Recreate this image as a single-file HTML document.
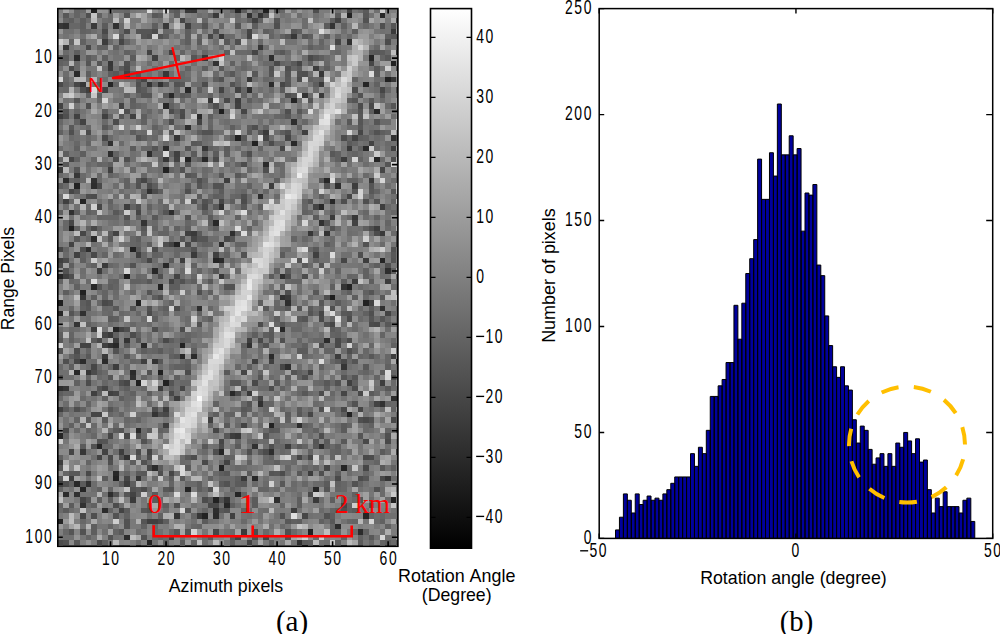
<!DOCTYPE html><html><head><meta charset="utf-8"><style>html,body{margin:0;padding:0;background:#fff;overflow:hidden}svg{display:block}text{font-kerning:none}</style></head><body><svg width="1000" height="634" viewBox="0 0 1000 634"><rect x="0" y="0" width="1000" height="634" fill="#fff"/><g shape-rendering="crispEdges"><path fill="rgb(31,31,31)" d="M219 109h5v5h-5zM69 226h5v5h-5zM124 274h6v5h-6zM330 295h5v5h-5zM58 300h5v6h-5zM158 370h5v5h-5z"/><path fill="rgb(34,34,34)" d="M91 9h6v4h-6zM263 9h6v4h-6zM347 13h5v5h-5zM391 61h5v5h-5zM385 77h6v5h-6zM235 135h6v6h-6zM252 141h6v5h-6zM163 167h6v6h-6zM74 183h6v6h-6zM174 242h6v5h-6zM130 247h6v5h-6zM158 284h5v6h-5zM347 284h5v6h-5zM80 290h6v5h-6zM136 300h5v6h-5zM363 300h6v6h-6zM180 343h5v5h-5zM136 380h5v6h-5zM163 380h6v6h-6zM347 412h5v5h-5zM269 423h5v5h-5zM219 465h5v6h-5zM113 476h6v5h-6zM213 497h6v6h-6zM391 497h5v6h-5zM202 513h6v6h-6zM308 529h5v6h-5zM302 545h6v1h-6zM324 545h6v1h-6z"/><path fill="rgb(37,37,37)" d="M369 55h5v6h-5zM108 82h5v5h-5zM363 82h6v5h-6zM291 98h6v5h-6zM185 157h6v5h-6zM374 157h6v5h-6zM80 199h6v5h-6zM213 258h6v5h-6zM380 258h5v5h-5zM58 274h5v5h-5zM113 327h6v5h-6zM58 433h5v6h-5zM97 444h5v5h-5zM219 449h5v6h-5zM341 465h6v6h-6zM80 487h6v5h-6zM185 487h6v5h-6zM313 487h6v5h-6zM235 492h6v5h-6zM224 503h6v5h-6zM363 513h6v6h-6zM58 519h5v5h-5zM147 540h5v5h-5z"/><path fill="rgb(40,40,40)" d="M235 9h6v4h-6zM380 13h5v5h-5zM74 71h6v6h-6zM185 87h6v6h-6zM169 93h5v5h-5zM163 103h6v6h-6zM374 109h6v5h-6zM291 141h6v5h-6zM202 157h6v5h-6zM324 178h6v5h-6zM330 199h5v5h-5zM319 204h5v6h-5zM213 220h6v6h-6zM163 263h6v5h-6zM152 268h6v6h-6zM91 284h6v6h-6zM58 311h5v5h-5zM280 327h5v5h-5zM113 343h6v5h-6zM180 354h5v5h-5zM74 370h6v5h-6zM230 391h5v5h-5zM113 471h6v5h-6zM252 476h6v5h-6zM74 481h6v6h-6z"/><path fill="rgb(43,43,43)" d="M74 55h6v6h-6zM269 82h5v5h-5zM197 114h5v5h-5zM163 146h6v5h-6zM363 146h6v5h-6zM263 162h6v5h-6zM91 236h6v6h-6zM219 258h5v5h-5zM324 338h6v5h-6zM141 343h6v5h-6zM191 354h6v5h-6zM269 354h5v5h-5zM80 359h6v5h-6zM102 359h6v5h-6zM396 359h2v5h-2zM130 370h6v5h-6zM396 396h2v5h-2zM136 428h5v5h-5zM152 465h6v6h-6zM63 492h6v5h-6zM102 508h6v5h-6zM213 513h6v6h-6zM335 524h6v5h-6zM358 529h5v6h-5zM124 535h6v5h-6z"/><path fill="rgb(46,46,46)" d="M269 55h5v6h-5zM247 87h5v6h-5zM291 119h6v6h-6zM185 125h6v5h-6zM108 151h5v6h-5zM147 151h5v6h-5zM63 178h6v5h-6zM91 183h6v6h-6zM335 183h6v6h-6zM258 194h5v5h-5zM169 210h5v5h-5zM230 231h5v5h-5zM219 242h5v5h-5zM86 247h5v5h-5zM385 268h6v6h-6zM280 274h5v5h-5zM285 300h6v6h-6zM197 306h5v5h-5zM285 364h6v6h-6zM58 386h5v5h-5zM391 396h5v5h-5zM297 423h5v5h-5zM319 444h5v5h-5zM269 449h5v6h-5zM108 492h5v5h-5zM274 497h6v6h-6zM213 508h6v5h-6z"/><path fill="rgb(49,49,49)" d="M247 13h5v5h-5zM63 23h6v6h-6zM113 23h6v6h-6zM347 39h5v6h-5zM396 50h2v5h-2zM213 61h6v5h-6zM158 82h5v5h-5zM391 135h5v6h-5zM108 141h5v5h-5zM91 178h6v5h-6zM147 189h5v5h-5zM219 204h5v6h-5zM69 210h5v5h-5zM319 220h5v6h-5zM280 295h5v5h-5zM380 306h5v5h-5zM80 311h6v5h-6zM108 343h5v5h-5zM247 343h5v5h-5zM130 375h6v5h-6zM258 401h5v6h-5zM380 401h5v6h-5zM252 444h6v5h-6zM124 455h6v5h-6zM86 481h5v6h-5zM74 492h6v5h-6zM80 503h6v5h-6zM297 540h5v5h-5zM341 545h6v1h-6z"/><path fill="rgb(52,52,52)" d="M258 13h5v5h-5zM330 23h5v6h-5zM147 82h5v5h-5zM302 93h6v5h-6zM141 220h6v6h-6zM324 231h6v5h-6zM341 284h6v6h-6zM74 322h6v5h-6zM124 338h6v5h-6zM152 359h6v5h-6zM341 364h6v6h-6zM152 412h6v5h-6zM136 476h5v5h-5zM385 476h6v5h-6zM224 497h6v6h-6zM174 513h6v6h-6z"/><path fill="rgb(55,55,55)" d="M191 9h6v4h-6zM58 23h5v6h-5zM219 34h5v5h-5zM291 34h6v5h-6zM258 45h5v5h-5zM202 55h6v6h-6zM108 61h5v5h-5zM163 71h6v6h-6zM319 71h5v6h-5zM247 77h5v5h-5zM391 77h5v5h-5zM80 82h6v5h-6zM208 98h5v5h-5zM174 135h6v6h-6zM202 146h6v5h-6zM163 157h6v5h-6zM74 173h6v5h-6zM352 215h6v5h-6zM308 231h5v5h-5zM219 274h5v5h-5zM80 295h6v5h-6zM86 370h5v5h-5zM63 386h6v5h-6zM235 433h6v6h-6zM80 449h6v6h-6zM197 513h5v6h-5z"/><path fill="rgb(58,58,58)" d="M185 9h6v4h-6zM213 13h6v5h-6zM91 23h6v6h-6zM163 23h6v6h-6zM391 29h5v5h-5zM63 45h6v5h-6zM108 66h5v5h-5zM319 82h5v5h-5zM319 93h5v5h-5zM263 130h6v5h-6zM347 146h5v5h-5zM58 167h5v6h-5zM369 178h5v5h-5zM330 215h5v5h-5zM191 231h6v5h-6zM380 231h5v5h-5zM191 252h6v6h-6zM102 263h6v5h-6zM285 295h6v5h-6zM108 332h5v6h-5zM102 354h6v5h-6zM247 391h5v5h-5zM241 476h6v5h-6zM130 497h6v6h-6zM313 497h6v6h-6zM241 529h6v6h-6zM313 545h6v1h-6z"/><path fill="rgb(61,61,61)" d="M102 39h6v6h-6zM313 66h6v5h-6zM235 98h6v5h-6zM58 114h5v5h-5zM341 157h6v5h-6zM224 178h6v5h-6zM269 183h5v6h-5zM352 183h6v6h-6zM124 204h6v6h-6zM380 204h5v6h-5zM374 226h6v5h-6zM180 258h5v5h-5zM363 258h6v5h-6zM97 268h5v6h-5zM352 279h6v5h-6zM385 279h6v5h-6zM91 327h6v5h-6zM113 338h6v5h-6zM335 354h6v5h-6zM391 354h5v5h-5zM113 364h6v6h-6zM380 380h5v6h-5zM158 386h5v5h-5zM174 396h6v5h-6zM163 407h6v5h-6zM163 423h6v5h-6zM230 433h5v6h-5zM285 444h6v5h-6zM119 449h5v6h-5zM58 460h5v5h-5zM308 471h5v5h-5zM69 476h5v5h-5zM124 481h6v6h-6zM291 508h6v5h-6zM136 545h5v1h-5z"/><path fill="rgb(64,64,64)" d="M252 18h6v5h-6zM396 18h2v5h-2zM185 23h6v6h-6zM152 55h6v6h-6zM124 71h6v6h-6zM86 87h5v6h-5zM235 103h6v6h-6zM74 114h6v5h-6zM102 114h6v5h-6zM130 114h6v5h-6zM302 130h6v5h-6zM391 146h5v5h-5zM174 151h6v6h-6zM108 167h5v6h-5zM63 199h6v5h-6zM185 231h6v5h-6zM396 242h2v5h-2zM74 252h6v6h-6zM136 252h5v6h-5zM213 252h6v6h-6zM313 252h6v6h-6zM58 258h5v5h-5zM63 274h6v5h-6zM247 338h5v5h-5zM102 343h6v5h-6zM141 359h6v5h-6zM252 359h6v5h-6zM269 359h5v5h-5zM347 380h5v6h-5zM91 391h6v5h-6zM108 391h5v5h-5zM58 407h5v5h-5zM208 417h5v6h-5zM396 449h2v6h-2zM58 481h5v6h-5zM230 513h5v6h-5zM147 519h11v5h-11zM169 535h5v5h-5zM235 535h6v5h-6z"/><path fill="rgb(67,67,67)" d="M347 9h5v4h-5zM335 18h6v5h-6zM247 34h5v5h-5zM147 50h5v5h-5zM169 50h5v5h-5zM102 87h6v6h-6zM219 87h5v6h-5zM235 87h6v6h-6zM58 103h5v6h-5zM119 103h5v6h-5zM80 119h6v6h-6zM197 119h5v6h-5zM352 135h6v6h-6zM369 141h5v5h-5zM174 157h6v5h-6zM352 220h6v6h-6zM113 231h6v5h-6zM69 242h5v5h-5zM169 242h5v5h-5zM174 274h6v5h-6zM169 279h5v5h-5zM369 300h5v6h-5zM385 311h6v5h-6zM119 327h5v5h-5zM80 343h11v5h-11zM308 370h5v5h-5zM374 401h6v6h-6zM241 423h6v5h-6zM396 428h2v5h-2zM102 449h6v6h-6zM147 449h5v6h-5zM97 455h5v5h-5zM224 460h6v5h-6zM130 492h6v5h-6zM80 497h6v6h-6zM119 508h5v5h-5zM263 535h6v5h-6zM247 540h5v5h-5z"/><path fill="rgb(70,70,70)" d="M180 18h5v5h-5zM247 29h5v5h-5zM208 34h5v5h-5zM119 39h5v6h-5zM335 39h6v6h-6zM252 50h6v5h-6zM297 61h5v5h-5zM369 61h5v5h-5zM141 77h6v5h-6zM74 82h6v5h-6zM280 82h5v5h-5zM380 87h5v6h-5zM241 109h6v5h-6zM358 130h5v5h-5zM263 135h6v6h-6zM285 135h6v6h-6zM280 146h5v5h-5zM69 157h5v5h-5zM380 167h5v6h-5zM141 178h6v5h-6zM69 189h5v5h-5zM347 194h5v5h-5zM219 199h5v5h-5zM97 204h5v6h-5zM313 204h6v6h-6zM136 210h5v5h-5zM69 220h5v6h-5zM80 231h6v5h-6zM191 236h6v6h-6zM58 247h5v5h-5zM147 258h5v5h-5zM341 258h6v5h-6zM319 311h5v5h-5zM330 322h5v5h-5zM102 332h6v6h-6zM74 359h6v5h-6zM91 364h6v6h-6zM280 364h5v6h-5zM241 370h6v5h-6zM124 380h6v6h-6zM102 386h6v5h-6zM180 386h5v5h-5zM113 391h6v5h-6zM341 391h6v5h-6zM258 396h5v5h-5zM358 407h5v5h-5zM91 412h11v5h-11zM308 412h5v5h-5zM213 428h6v5h-6zM108 433h5v6h-5zM219 439h5v5h-5zM69 449h5v6h-5zM297 455h5v5h-5zM308 455h5v5h-5zM324 465h6v6h-6zM363 465h6v6h-6zM169 471h5v5h-5zM124 476h6v5h-6zM341 503h6v5h-6zM80 513h6v6h-6zM302 513h6v6h-6zM213 529h6v6h-6z"/><path fill="rgb(73,73,73)" d="M102 29h6v5h-6zM86 45h5v5h-5zM396 45h2v5h-2zM308 55h5v6h-5zM274 61h6v5h-6zM69 66h5v5h-5zM58 82h5v5h-5zM224 98h6v5h-6zM369 103h5v6h-5zM180 114h5v5h-5zM102 135h6v6h-6zM213 157h6v5h-6zM97 183h5v6h-5zM91 226h6v5h-6zM224 236h6v6h-6zM185 242h6v5h-6zM91 252h6v6h-6zM102 300h6v6h-6zM319 316h5v6h-5zM374 322h6v5h-6zM97 338h5v5h-5zM163 338h6v5h-6zM258 338h5v5h-5zM335 338h6v5h-6zM335 343h6v5h-6zM341 359h6v5h-6zM252 380h6v6h-6zM169 391h5v5h-5zM235 391h6v5h-6zM358 391h5v5h-5zM341 407h6v5h-6zM163 412h6v5h-6zM363 417h6v6h-6zM391 417h5v6h-5zM63 428h6v5h-6zM124 433h6v6h-6zM363 439h6v5h-6zM385 439h6v5h-6zM108 455h5v5h-5zM363 455h6v5h-6zM202 460h6v5h-6zM147 465h5v6h-5zM86 471h5v5h-5zM335 476h6v5h-6zM380 476h5v5h-5zM308 492h5v5h-5zM208 503h11v5h-11zM158 519h5v5h-5z"/><path fill="rgb(76,76,76)" d="M124 29h6v5h-6zM152 29h6v5h-6zM385 39h6v6h-6zM124 66h6v5h-6zM297 77h5v5h-5zM202 82h6v5h-6zM352 87h6v6h-6zM358 103h5v6h-5zM169 109h5v5h-5zM180 109h5v5h-5zM113 119h6v6h-6zM169 119h5v6h-5zM86 130h5v5h-5zM341 135h6v6h-6zM269 141h5v5h-5zM241 162h6v5h-6zM147 183h5v6h-5zM152 189h6v5h-6zM91 194h6v5h-6zM241 199h6v5h-6zM202 204h6v6h-6zM374 231h6v5h-6zM396 236h2v6h-2zM152 247h6v5h-6zM63 258h6v5h-6zM58 263h5v5h-5zM285 274h6v5h-6zM302 274h6v5h-6zM174 306h6v5h-6zM147 311h5v5h-5zM347 316h5v6h-5zM258 322h5v5h-5zM369 322h5v5h-5zM180 327h5v5h-5zM130 332h6v6h-6zM347 338h5v5h-5zM319 343h5v5h-5zM74 348h6v6h-6zM91 370h6v5h-6zM185 370h6v5h-6zM391 375h5v5h-5zM86 380h5v6h-5zM269 386h5v5h-5zM352 386h6v5h-6zM319 391h5v5h-5zM152 407h6v5h-6zM219 444h5v5h-5zM136 449h5v6h-5zM263 449h6v6h-6zM147 455h5v5h-5zM191 455h6v5h-6zM369 455h5v5h-5zM280 471h5v5h-5zM358 476h5v5h-5zM141 487h6v5h-6zM202 497h6v6h-6zM113 503h6v5h-6zM252 529h6v6h-6zM58 540h5v5h-5zM97 540h5v5h-5zM152 545h6v1h-6z"/><path fill="rgb(79,79,79)" d="M313 9h6v4h-6zM86 13h5v5h-5zM274 23h6v6h-6zM380 23h5v6h-5zM213 29h6v5h-6zM147 34h5v5h-5zM235 39h6v6h-6zM124 61h6v5h-6zM285 66h6v5h-6zM302 71h6v6h-6zM136 82h5v5h-5zM80 87h6v6h-6zM396 87h2v6h-2zM285 93h6v5h-6zM86 103h5v6h-5zM213 103h6v6h-6zM124 109h6v5h-6zM285 109h6v5h-6zM63 114h6v5h-6zM252 125h6v5h-6zM69 130h5v5h-5zM396 135h2v6h-2zM247 151h5v6h-5zM113 157h6v5h-6zM124 157h6v5h-6zM391 157h5v5h-5zM263 167h6v6h-6zM197 178h5v5h-5zM185 189h6v5h-6zM86 194h5v5h-5zM241 194h6v5h-6zM341 199h6v5h-6zM363 199h6v5h-6zM369 226h5v5h-5zM163 242h6v5h-6zM80 247h6v5h-6zM358 252h5v6h-5zM385 263h6v5h-6zM69 274h5v5h-5zM158 274h5v5h-5zM197 290h5v5h-5zM285 290h6v5h-6zM158 295h5v5h-5zM324 295h6v5h-6zM108 300h5v6h-5zM330 306h5v5h-5zM369 311h5v5h-5zM124 327h6v5h-6zM152 327h6v5h-6zM280 338h5v5h-5zM347 348h5v6h-5zM63 359h6v5h-6zM302 375h6v5h-6zM119 380h5v6h-5zM74 407h6v5h-6zM319 407h5v5h-5zM158 412h5v5h-5zM358 417h5v6h-5zM319 433h5v6h-5zM385 433h6v6h-6zM269 444h5v5h-5zM213 449h6v6h-6zM247 449h5v6h-5zM108 460h5v5h-5zM158 471h5v5h-5zM319 471h5v5h-5zM63 481h6v6h-6zM174 503h6v5h-6zM341 508h6v5h-6zM91 513h6v6h-6zM285 529h6v6h-6zM252 535h6v5h-6zM285 535h6v5h-6zM119 545h5v1h-5z"/><path fill="rgb(82,82,82)" d="M363 18h6v5h-6zM158 34h5v5h-5zM396 34h2v5h-2zM269 66h5v5h-5zM396 66h2v5h-2zM297 71h5v6h-5zM219 77h5v5h-5zM174 82h6v5h-6zM230 82h5v5h-5zM358 93h5v5h-5zM202 130h11v5h-11zM285 130h6v5h-6zM374 130h6v5h-6zM136 135h5v6h-5zM180 167h5v6h-5zM136 183h5v6h-5zM213 183h11v6h-11zM324 183h6v6h-6zM191 199h6v5h-6zM202 199h6v5h-6zM374 199h6v5h-6zM136 204h5v6h-5zM124 215h6v5h-6zM185 215h6v5h-6zM330 226h5v5h-5zM363 242h6v5h-6zM191 247h6v5h-6zM391 247h5v5h-5zM241 252h6v6h-6zM130 263h6v5h-6zM63 268h6v6h-6zM180 279h5v5h-5zM224 284h11v6h-11zM147 306h5v5h-5zM197 322h5v5h-5zM324 322h6v5h-6zM263 343h6v5h-6zM58 348h5v6h-5zM113 348h6v6h-6zM147 370h5v5h-5zM335 380h6v6h-6zM241 386h6v5h-6zM352 401h6v6h-6zM369 417h5v6h-5zM136 433h5v6h-5zM97 439h5v5h-5zM141 439h6v5h-6zM91 444h6v5h-6zM141 460h6v5h-6zM224 481h6v6h-6zM352 481h6v6h-6zM130 487h6v5h-6zM169 487h5v5h-5zM208 487h5v5h-5zM374 487h6v5h-6zM113 492h6v5h-6zM219 497h5v6h-5zM147 508h5v5h-5zM185 508h6v5h-6zM224 508h6v5h-6zM113 513h6v6h-6zM280 513h5v6h-5zM324 513h6v6h-6zM124 519h6v5h-6zM124 524h6v5h-6zM80 529h6v6h-6zM108 535h5v5h-5zM141 535h6v5h-6zM63 540h6v5h-6zM174 545h6v1h-6zM185 545h6v1h-6zM358 545h5v1h-5z"/><path fill="rgb(85,85,85)" d="M124 13h6v5h-6zM263 13h6v5h-6zM274 18h6v5h-6zM202 23h6v6h-6zM235 23h6v6h-6zM391 23h5v6h-5zM136 29h16v5h-16zM291 29h6v5h-6zM141 34h6v5h-6zM285 34h6v5h-6zM302 34h6v5h-6zM191 55h6v6h-6zM313 55h6v6h-6zM86 61h5v5h-5zM97 61h5v5h-5zM136 71h5v6h-5zM269 71h5v6h-5zM285 71h6v6h-6zM163 82h6v5h-6zM285 82h6v5h-6zM136 87h5v6h-5zM141 93h11v5h-11zM74 98h6v5h-6zM308 98h5v5h-5zM352 98h6v5h-6zM391 103h5v6h-5zM63 109h6v5h-6zM358 109h5v5h-5zM119 114h5v5h-5zM358 119h5v6h-5zM374 119h6v6h-6zM152 146h6v5h-6zM185 146h6v5h-6zM185 162h6v5h-6zM385 162h6v5h-6zM74 167h6v6h-6zM185 173h6v5h-6zM136 178h5v5h-5zM197 183h5v6h-5zM369 183h5v6h-5zM74 189h6v5h-6zM352 189h6v5h-6zM308 199h5v5h-5zM163 210h6v5h-6zM324 220h6v6h-6zM396 231h2v5h-2zM180 236h5v6h-5zM197 236h11v6h-11zM230 236h5v6h-5zM297 258h5v5h-5zM391 258h5v5h-5zM319 263h5v5h-5zM213 268h6v6h-6zM97 284h5v6h-5zM147 290h5v5h-5zM369 290h5v5h-5zM86 300h5v6h-5zM130 306h6v5h-6zM297 306h5v5h-5zM69 311h5v5h-5zM308 311h5v5h-5zM347 311h5v5h-5zM302 316h6v6h-6zM369 316h5v6h-5zM380 316h5v6h-5zM280 322h5v5h-5zM136 338h5v5h-5zM74 354h6v5h-6zM352 359h6v5h-6zM291 370h6v5h-6zM58 375h5v5h-5zM108 375h5v5h-5zM258 375h5v5h-5zM341 375h6v5h-6zM352 375h6v5h-6zM169 380h5v6h-5zM97 386h5v5h-5zM247 401h5v6h-5zM108 407h5v5h-5zM119 428h5v5h-5zM263 433h6v6h-6zM358 433h5v6h-5zM102 439h6v5h-6zM313 439h6v5h-6zM119 455h5v5h-5zM58 465h5v6h-5zM269 471h5v5h-5zM363 476h6v5h-6zM324 487h6v5h-6zM124 492h6v5h-6zM86 497h5v6h-5zM358 497h5v6h-5zM369 503h5v5h-5zM141 519h6v5h-6zM69 529h5v6h-5zM185 529h6v6h-6zM396 540h2v5h-2zM124 545h6v1h-6z"/><path fill="rgb(88,88,88)" d="M63 13h6v5h-6zM152 13h6v5h-6zM363 13h6v5h-6zM102 34h6v5h-6zM391 34h5v5h-5zM224 39h6v6h-6zM280 50h5v5h-5zM374 50h6v5h-6zM385 55h6v6h-6zM219 66h5v5h-5zM374 66h6v5h-6zM113 71h6v6h-6zM230 71h5v6h-5zM252 71h6v6h-6zM136 77h5v5h-5zM285 77h6v5h-6zM180 82h5v5h-5zM163 93h6v5h-6zM180 93h5v5h-5zM291 93h6v5h-6zM380 93h5v5h-5zM369 98h5v5h-5zM297 109h5v5h-5zM285 114h6v5h-6zM358 114h5v5h-5zM347 119h5v6h-5zM69 125h5v5h-5zM102 125h6v5h-6zM358 125h5v5h-5zM169 130h5v5h-5zM247 130h5v5h-5zM258 130h5v5h-5zM241 135h6v6h-6zM191 141h6v5h-6zM330 151h5v6h-5zM63 162h6v5h-6zM219 173h5v5h-5zM235 173h6v5h-6zM319 178h5v5h-5zM369 189h5v5h-5zM391 189h5v5h-5zM241 204h6v6h-6zM113 210h6v5h-6zM152 215h6v5h-6zM141 226h6v5h-6zM74 236h6v6h-6zM108 236h5v6h-5zM313 247h6v5h-6zM391 252h5v6h-5zM147 279h5v5h-5zM208 279h5v5h-5zM313 290h6v5h-6zM380 295h5v5h-5zM319 300h5v6h-5zM86 306h5v5h-5zM113 306h6v5h-6zM263 306h6v5h-6zM285 306h6v5h-6zM341 311h6v5h-6zM385 322h6v5h-6zM269 332h5v6h-5zM58 338h5v5h-5zM269 338h5v5h-5zM124 343h6v5h-6zM86 354h5v5h-5zM124 354h6v5h-6zM369 354h5v5h-5zM158 359h5v5h-5zM363 364h6v6h-6zM224 370h6v5h-6zM230 380h11v6h-11zM274 380h6v6h-6zM324 380h6v6h-6zM385 386h6v5h-6zM302 391h6v5h-6zM241 407h6v5h-6zM297 412h5v5h-5zM224 423h6v5h-6zM269 428h5v5h-5zM224 433h6v6h-6zM341 439h6v5h-6zM202 444h6v5h-6zM313 444h6v5h-6zM185 455h6v5h-6zM380 465h5v6h-5zM69 471h11v5h-11zM141 471h6v5h-6zM224 471h6v5h-6zM274 471h6v5h-6zM297 471h5v5h-5zM58 476h5v5h-5zM180 476h5v5h-5zM241 481h6v6h-6zM280 481h5v6h-5zM136 487h5v5h-5zM163 487h6v5h-6zM141 508h6v5h-6zM219 508h5v5h-5zM285 519h6v5h-6zM330 519h5v5h-5zM119 529h5v6h-5zM174 529h6v6h-6zM208 535h5v5h-5zM230 535h5v5h-5zM369 535h5v5h-5zM74 540h6v5h-6z"/><path fill="rgb(91,91,91)" d="M174 9h6v4h-6zM274 9h6v4h-6zM363 9h6v4h-6zM335 13h6v5h-6zM102 23h6v6h-6zM324 23h6v6h-6zM119 34h5v5h-5zM197 39h5v6h-5zM369 50h5v5h-5zM380 50h5v5h-5zM63 55h6v6h-6zM86 55h5v6h-5zM130 55h6v6h-6zM291 61h6v5h-6zM119 66h5v5h-5zM297 66h5v5h-5zM374 71h6v6h-6zM141 87h6v6h-6zM280 87h5v6h-5zM102 109h6v5h-6zM197 141h5v5h-5zM347 141h5v5h-5zM130 146h6v5h-6zM224 146h6v5h-6zM191 151h6v6h-6zM213 151h6v6h-6zM191 173h6v5h-6zM219 189h5v5h-5zM141 194h6v5h-6zM197 194h5v5h-5zM213 204h6v6h-6zM208 215h5v5h-5zM313 215h6v5h-6zM197 231h5v5h-5zM136 247h5v5h-5zM280 252h5v6h-5zM169 258h5v5h-5zM302 263h6v5h-6zM285 268h6v6h-6zM269 274h5v5h-5zM335 300h6v6h-6zM308 306h5v5h-5zM369 306h5v5h-5zM108 316h5v6h-5zM297 316h5v6h-5zM269 327h5v5h-5zM330 327h5v5h-5zM91 338h6v5h-6zM180 338h5v5h-5zM158 348h5v6h-5zM297 348h11v6h-11zM174 354h6v5h-6zM335 359h6v5h-6zM185 364h6v6h-6zM158 375h5v5h-5zM369 391h5v5h-5zM63 407h6v5h-6zM297 407h5v5h-5zM86 417h5v6h-5zM102 417h6v6h-6zM396 417h2v6h-2zM341 423h6v5h-6zM113 428h6v5h-6zM274 428h6v5h-6zM341 428h6v5h-6zM324 439h6v5h-6zM80 444h6v5h-6zM235 444h6v5h-6zM297 444h5v5h-5zM258 449h5v6h-5zM380 449h5v6h-5zM136 455h5v5h-5zM158 465h5v6h-5zM185 465h6v6h-6zM136 471h5v5h-5zM247 471h5v5h-5zM102 476h6v5h-6zM80 481h6v6h-6zM219 481h5v6h-5zM235 481h6v6h-6zM324 481h6v6h-6zM152 492h6v5h-6zM108 497h5v6h-5zM152 497h6v6h-6zM208 497h5v6h-5zM252 497h6v6h-6zM69 503h5v5h-5zM252 503h6v5h-6zM63 508h6v5h-6zM124 508h6v5h-6zM352 508h6v5h-6zM202 519h6v5h-6zM180 540h5v5h-5zM302 540h6v5h-6zM358 540h5v5h-5zM102 545h6v1h-6zM258 545h5v1h-5z"/><path fill="rgb(94,94,94)" d="M241 9h6v4h-6zM158 13h5v5h-5zM174 13h6v5h-6zM69 18h5v5h-5zM80 18h6v5h-6zM330 18h5v5h-5zM80 23h6v6h-6zM152 23h6v6h-6zM252 23h6v6h-6zM185 29h6v5h-6zM263 29h6v5h-6zM297 29h5v5h-5zM352 29h6v5h-6zM163 34h6v5h-6zM185 34h6v5h-6zM308 34h5v5h-5zM324 34h6v5h-6zM385 34h6v5h-6zM185 39h6v6h-6zM308 45h5v5h-5zM74 50h6v5h-6zM224 50h6v5h-6zM58 55h5v6h-5zM102 55h6v6h-6zM319 55h5v6h-5zM202 66h6v5h-6zM324 66h6v5h-6zM86 71h5v6h-5zM108 71h5v6h-5zM213 77h6v5h-6zM97 82h5v5h-5zM313 82h6v5h-6zM197 87h5v6h-5zM86 93h5v5h-5zM97 93h5v5h-5zM185 93h6v5h-6zM130 98h6v5h-6zM247 98h5v5h-5zM347 98h5v5h-5zM369 109h5v5h-5zM141 114h6v5h-6zM208 114h5v5h-5zM230 125h5v5h-5zM247 125h5v5h-5zM130 130h6v5h-6zM197 130h5v5h-5zM280 130h5v5h-5zM380 130h5v5h-5zM141 135h6v6h-6zM230 135h5v6h-5zM358 135h5v6h-5zM63 151h6v6h-6zM80 151h6v6h-6zM224 151h6v6h-6zM108 162h5v5h-5zM74 178h6v5h-6zM274 178h6v5h-6zM58 183h5v6h-5zM152 183h6v6h-6zM185 183h6v6h-6zM158 189h5v5h-5zM213 194h6v5h-6zM319 194h5v5h-5zM208 199h5v5h-5zM230 199h5v5h-5zM258 204h5v6h-5zM58 210h5v5h-5zM74 210h6v5h-6zM136 215h5v5h-5zM208 220h5v6h-5zM213 226h6v5h-6zM363 226h6v5h-6zM108 231h5v5h-5zM136 236h5v6h-5zM147 242h5v5h-5zM324 242h6v5h-6zM80 258h6v5h-6zM69 263h5v5h-5zM374 263h6v5h-6zM391 268h5v6h-5zM174 279h6v5h-6zM191 279h6v5h-6zM341 279h6v5h-6zM369 279h5v5h-5zM108 284h5v6h-5zM169 284h11v6h-11zM280 284h5v6h-5zM330 284h5v6h-5zM63 290h6v5h-6zM208 290h5v5h-5zM274 290h6v5h-6zM347 290h5v5h-5zM91 295h6v5h-6zM152 295h6v5h-6zM352 295h6v5h-6zM80 300h6v6h-6zM258 300h5v6h-5zM163 306h6v5h-6zM113 316h6v6h-6zM152 316h6v6h-6zM208 316h5v6h-5zM274 316h6v6h-6zM396 322h2v5h-2zM58 332h5v6h-5zM252 332h6v6h-6zM263 332h6v6h-6zM169 338h5v5h-5zM141 348h6v6h-6zM191 348h6v6h-6zM69 364h5v6h-5zM247 364h5v6h-5zM380 370h5v5h-5zM174 375h6v5h-6zM285 375h6v5h-6zM352 380h6v6h-6zM124 386h6v5h-6zM58 391h5v5h-5zM97 391h5v5h-5zM147 391h5v5h-5zM119 396h5v5h-5zM247 407h5v5h-5zM213 412h6v5h-6zM285 412h6v5h-6zM341 412h6v5h-6zM147 428h5v5h-5zM324 444h6v5h-6zM335 444h6v5h-6zM130 460h6v5h-6zM274 460h6v5h-6zM219 471h5v5h-5zM335 471h6v5h-6zM169 476h5v5h-5zM235 476h6v5h-6zM119 481h5v6h-5zM130 481h6v6h-6zM197 481h5v6h-5zM197 487h5v5h-5zM136 492h5v5h-5zM97 497h5v6h-5zM297 497h5v6h-5zM330 497h5v6h-5zM147 503h5v5h-5zM163 503h6v5h-6zM230 503h5v5h-5zM297 503h5v5h-5zM335 508h6v5h-6zM330 513h5v6h-5zM163 519h6v5h-6zM297 519h5v5h-5zM396 519h2v5h-2zM91 524h6v5h-6zM91 529h6v6h-6zM269 540h5v5h-5zM308 540h5v5h-5zM335 540h6v5h-6zM385 540h6v5h-6zM391 545h5v1h-5z"/><path fill="rgb(97,97,97)" d="M169 9h5v4h-5zM252 9h6v4h-6zM97 13h5v5h-5zM247 18h5v5h-5zM258 18h5v5h-5zM341 23h6v6h-6zM80 29h6v5h-6zM197 34h5v5h-5zM280 34h5v5h-5zM80 39h6v6h-6zM97 45h11v5h-11zM113 45h6v5h-6zM124 50h6v5h-6zM274 50h6v5h-6zM174 55h6v6h-6zM58 61h5v5h-5zM230 61h5v5h-5zM308 61h5v5h-5zM185 66h6v5h-6zM130 71h6v6h-6zM308 77h5v5h-5zM319 77h5v5h-5zM63 82h6v5h-6zM152 82h6v5h-6zM374 82h6v5h-6zM124 93h6v5h-6zM208 93h5v5h-5zM130 103h6v6h-6zM169 103h5v6h-5zM174 109h6v5h-6zM74 119h6v6h-6zM141 119h6v6h-6zM152 125h6v5h-6zM297 125h5v5h-5zM58 130h5v5h-5zM363 135h6v6h-6zM74 146h6v5h-6zM208 146h5v5h-5zM358 146h5v5h-5zM202 151h6v6h-6zM335 151h6v6h-6zM74 157h6v5h-6zM197 157h5v5h-5zM335 157h6v5h-6zM124 178h6v5h-6zM202 178h6v5h-6zM347 178h11v5h-11zM124 183h6v6h-6zM247 183h5v6h-5zM219 194h5v5h-5zM108 199h5v5h-5zM147 204h5v6h-5zM86 210h5v5h-5zM202 210h6v5h-6zM302 210h6v5h-6zM330 210h5v5h-5zM235 215h6v5h-6zM374 215h6v5h-6zM74 226h6v5h-6zM86 226h5v5h-5zM174 226h6v5h-6zM185 226h6v5h-6zM247 226h5v5h-5zM141 231h6v5h-6zM202 242h6v5h-6zM80 252h6v6h-6zM152 252h6v6h-6zM224 252h6v6h-6zM313 258h6v5h-6zM91 263h6v5h-6zM191 263h6v5h-6zM274 268h6v6h-6zM363 268h6v6h-6zM363 274h6v5h-6zM396 274h2v5h-2zM113 279h6v5h-6zM130 279h11v5h-11zM74 284h6v6h-6zM363 290h6v5h-6zM80 306h6v5h-6zM197 311h5v5h-5zM363 311h6v5h-6zM86 322h5v5h-5zM113 332h6v6h-6zM136 332h5v6h-5zM335 332h6v6h-6zM69 338h5v5h-5zM185 338h6v5h-6zM341 338h6v5h-6zM241 343h6v5h-6zM302 343h6v5h-6zM391 343h5v5h-5zM352 348h6v6h-6zM69 354h5v5h-5zM169 354h5v5h-5zM347 354h5v5h-5zM185 359h6v5h-6zM174 364h11v6h-11zM319 364h5v6h-5zM385 364h6v6h-6zM97 370h5v5h-5zM297 370h5v5h-5zM74 380h6v6h-6zM280 386h5v5h-5zM324 386h6v5h-6zM130 391h6v5h-6zM102 396h6v5h-6zM213 401h6v6h-6zM396 401h2v6h-2zM80 407h6v5h-6zM230 412h5v5h-5zM241 412h6v5h-6zM285 417h6v6h-6zM69 423h5v5h-5zM302 423h6v5h-6zM369 423h5v5h-5zM158 428h5v5h-5zM313 428h6v5h-6zM252 439h6v5h-6zM335 449h6v6h-6zM58 455h5v5h-5zM224 455h6v5h-6zM269 455h5v5h-5zM247 460h5v5h-5zM391 465h5v6h-5zM208 476h5v5h-5zM69 481h5v6h-5zM335 481h6v6h-6zM97 487h5v5h-5zM230 487h5v5h-5zM352 492h6v5h-6zM91 503h6v5h-6zM347 508h5v5h-5zM124 513h6v6h-6zM158 513h5v6h-5zM291 519h6v5h-6zM319 519h5v5h-5zM380 519h5v5h-5zM141 524h6v5h-6zM385 524h6v5h-6zM330 529h5v6h-5zM363 529h6v6h-6zM341 535h6v5h-6zM358 535h5v5h-5zM102 540h6v5h-6zM163 540h6v5h-6zM230 540h5v5h-5zM385 545h6v1h-6z"/><path fill="rgb(100,100,100)" d="M74 9h6v4h-6zM230 9h5v4h-5zM74 13h6v5h-6zM208 13h5v5h-5zM63 18h6v5h-6zM86 29h5v5h-5zM269 34h5v5h-5zM69 39h5v6h-5zM124 39h6v6h-6zM319 39h5v6h-5zM180 50h5v5h-5zM380 55h5v6h-5zM280 61h5v5h-5zM169 77h11v5h-11zM352 77h6v5h-6zM113 82h6v5h-6zM174 87h6v6h-6zM241 93h6v5h-6zM74 109h6v5h-6zM108 114h5v5h-5zM280 114h5v5h-5zM208 125h5v5h-5zM263 125h6v5h-6zM158 130h5v5h-5zM369 130h5v5h-5zM385 130h6v5h-6zM347 135h5v6h-5zM86 141h5v5h-5zM352 141h6v5h-6zM258 146h5v5h-5zM113 151h6v6h-6zM169 151h5v6h-5zM352 151h6v6h-6zM58 157h5v5h-5zM158 157h5v5h-5zM358 157h5v5h-5zM97 162h5v5h-5zM235 162h6v5h-6zM274 162h6v5h-6zM169 167h5v6h-5zM108 173h5v5h-5zM69 178h5v5h-5zM147 178h5v5h-5zM396 178h2v5h-2zM141 189h6v5h-6zM374 189h6v5h-6zM235 194h6v5h-6zM369 194h5v5h-5zM396 194h2v5h-2zM302 199h6v5h-6zM391 199h5v5h-5zM130 204h6v6h-6zM163 204h6v6h-6zM396 210h2v5h-2zM97 215h5v5h-5zM124 220h6v6h-6zM385 220h6v6h-6zM97 226h5v5h-5zM152 226h6v5h-6zM158 231h11v5h-11zM235 231h6v5h-6zM291 236h6v6h-6zM136 242h5v5h-5zM208 242h5v5h-5zM235 242h12v5h-12zM63 247h6v5h-6zM185 247h6v5h-6zM102 252h6v6h-6zM141 252h6v6h-6zM158 252h5v6h-5zM141 258h6v5h-6zM219 263h5v5h-5zM197 268h5v6h-5zM335 268h6v6h-6zM224 274h6v5h-6zM347 274h5v5h-5zM58 279h5v5h-5zM108 279h5v5h-5zM141 279h6v5h-6zM291 279h11v5h-11zM113 284h6v6h-6zM102 290h6v5h-6zM102 295h6v5h-6zM169 300h5v6h-5zM274 306h11v5h-11zM319 306h5v5h-5zM274 322h6v5h-6zM335 327h6v5h-6zM69 332h5v6h-5zM185 332h6v6h-6zM330 332h5v6h-5zM380 332h5v6h-5zM258 343h5v5h-5zM86 348h5v6h-5zM152 348h6v6h-6zM324 348h11v6h-11zM302 354h6v5h-6zM358 354h5v5h-5zM130 359h6v5h-6zM258 370h5v5h-5zM363 370h6v5h-6zM391 370h5v5h-5zM86 375h5v5h-5zM141 375h6v5h-6zM297 375h5v5h-5zM374 375h6v5h-6zM169 386h5v5h-5zM396 391h2v5h-2zM86 401h5v6h-5zM263 401h11v6h-11zM385 401h6v6h-6zM330 407h5v5h-5zM391 407h5v5h-5zM119 412h5v5h-5zM224 412h6v5h-6zM396 412h2v5h-2zM74 417h6v6h-6zM136 417h5v6h-5zM80 423h6v5h-6zM208 423h5v5h-5zM347 423h5v5h-5zM396 423h2v5h-2zM86 428h5v5h-5zM385 428h6v5h-6zM63 433h6v6h-6zM274 439h6v5h-6zM302 444h6v5h-6zM308 449h5v6h-5zM330 449h5v6h-5zM230 455h5v5h-5zM330 455h5v5h-5zM86 460h5v5h-5zM374 460h6v5h-6zM302 465h6v6h-6zM313 465h6v6h-6zM63 471h6v5h-6zM124 471h6v5h-6zM169 481h5v6h-5zM358 481h5v6h-5zM58 487h5v5h-5zM108 487h5v5h-5zM258 487h11v5h-11zM335 487h6v5h-6zM241 492h6v5h-6zM341 497h6v6h-6zM58 503h5v5h-5zM347 503h5v5h-5zM108 508h5v5h-5zM202 508h6v5h-6zM241 508h6v5h-6zM330 508h5v5h-5zM191 513h6v6h-6zM369 513h5v6h-5zM352 519h6v5h-6zM108 524h5v5h-5zM197 524h5v5h-5zM330 524h5v5h-5zM113 529h6v6h-6zM335 529h6v6h-6zM86 535h5v5h-5zM158 535h5v5h-5zM191 540h6v5h-6zM380 540h5v5h-5zM158 545h5v1h-5zM252 545h6v1h-6z"/><path fill="rgb(103,103,103)" d="M124 9h6v4h-6zM280 9h5v4h-5zM202 18h6v5h-6zM69 23h11v6h-11zM363 23h6v6h-6zM163 29h6v5h-6zM269 29h5v5h-5zM335 34h6v5h-6zM319 45h5v5h-5zM374 45h6v5h-6zM202 50h6v5h-6zM247 50h5v5h-5zM335 50h6v5h-6zM385 50h6v5h-6zM91 55h6v6h-6zM63 61h6v5h-6zM74 61h6v5h-6zM324 61h6v5h-6zM74 66h6v5h-6zM241 66h6v5h-6zM291 66h6v5h-6zM119 71h5v6h-5zM180 71h5v6h-5zM224 71h6v6h-6zM63 77h6v5h-6zM180 77h5v5h-5zM263 77h6v5h-6zM313 77h6v5h-6zM235 82h6v5h-6zM63 87h6v6h-6zM241 87h6v6h-6zM385 87h6v6h-6zM136 93h5v5h-5zM174 93h6v5h-6zM97 98h5v5h-5zM136 103h5v6h-5zM208 103h5v6h-5zM147 109h5v5h-5zM213 109h6v5h-6zM274 114h6v5h-6zM58 119h5v6h-5zM208 119h5v6h-5zM302 119h6v6h-6zM86 125h5v5h-5zM152 135h6v6h-6zM74 141h6v5h-6zM163 141h6v5h-6zM241 141h6v5h-6zM141 146h11v5h-11zM213 146h6v5h-6zM152 151h11v6h-11zM241 151h6v6h-6zM91 157h6v5h-6zM102 162h6v5h-6zM130 167h6v6h-6zM247 167h5v6h-5zM97 173h5v5h-5zM141 173h6v5h-6zM241 173h6v5h-6zM80 178h6v5h-6zM202 183h6v6h-6zM241 189h6v5h-6zM263 189h6v5h-6zM230 194h5v5h-5zM69 199h5v5h-5zM158 199h5v5h-5zM324 199h6v5h-6zM108 204h5v6h-5zM197 204h5v6h-5zM302 204h6v6h-6zM385 204h6v6h-6zM396 204h2v6h-2zM91 210h6v5h-6zM119 210h5v5h-5zM308 210h5v5h-5zM363 210h6v5h-6zM391 210h5v5h-5zM102 215h17v5h-17zM347 215h5v5h-5zM63 220h6v6h-6zM185 220h6v6h-6zM252 220h6v6h-6zM63 226h6v5h-6zM163 226h6v5h-6zM313 231h6v5h-6zM86 236h5v6h-5zM130 236h6v6h-6zM302 236h6v6h-6zM130 242h6v5h-6zM174 247h11v5h-11zM308 247h5v5h-5zM174 252h6v6h-6zM197 252h5v6h-5zM108 263h5v5h-5zM136 274h5v5h-5zM191 274h6v5h-6zM352 274h6v5h-6zM69 279h5v5h-5zM185 279h6v5h-6zM285 279h6v5h-6zM197 284h5v6h-5zM396 284h2v6h-2zM97 300h5v6h-5zM274 300h6v6h-6zM69 306h5v5h-5zM102 306h6v5h-6zM158 306h5v5h-5zM208 306h5v5h-5zM358 306h5v5h-5zM108 311h5v5h-5zM119 311h5v5h-5zM136 311h5v5h-5zM163 311h6v5h-6zM313 311h6v5h-6zM330 316h5v6h-5zM385 316h6v6h-6zM130 322h6v5h-6zM291 327h11v5h-11zM158 338h5v5h-5zM297 338h5v5h-5zM313 338h11v5h-11zM152 343h6v5h-6zM369 343h5v5h-5zM396 343h2v5h-2zM147 348h5v6h-5zM169 348h5v6h-5zM363 348h6v6h-6zM385 354h6v5h-6zM136 359h5v5h-5zM330 359h5v5h-5zM347 359h5v5h-5zM385 359h6v5h-6zM108 364h5v6h-5zM169 364h5v6h-5zM235 364h6v6h-6zM102 380h6v6h-6zM180 380h11v6h-11zM319 380h5v6h-5zM330 380h5v6h-5zM119 386h5v5h-5zM141 386h6v5h-6zM63 391h11v5h-11zM224 391h6v5h-6zM297 391h5v5h-5zM330 391h5v5h-5zM374 391h6v5h-6zM241 401h6v6h-6zM369 401h5v6h-5zM391 401h5v6h-5zM113 407h6v5h-6zM263 407h6v5h-6zM280 407h5v5h-5zM58 412h5v5h-5zM108 412h5v5h-5zM124 417h6v6h-6zM274 423h6v5h-6zM308 423h5v5h-5zM163 428h6v5h-6zM91 433h6v6h-6zM235 439h6v5h-6zM247 439h5v5h-5zM280 444h5v5h-5zM280 449h5v6h-5zM263 460h11v5h-11zM235 465h6v6h-6zM285 465h6v6h-6zM363 471h6v5h-6zM302 481h6v6h-6zM341 481h6v6h-6zM396 481h2v6h-2zM341 487h6v5h-6zM396 487h2v5h-2zM158 497h5v6h-5zM158 503h5v5h-5zM280 503h5v5h-5zM380 513h5v6h-5zM80 519h6v5h-6zM347 519h5v5h-5zM152 524h6v5h-6zM191 524h6v5h-6zM63 529h6v6h-6zM352 529h6v6h-6zM369 540h5v5h-5zM74 545h6v1h-6zM163 545h6v1h-6zM219 545h5v1h-5z"/><path fill="rgb(106,106,106)" d="M80 9h6v4h-6zM113 9h11v4h-11zM358 9h5v4h-5zM108 13h5v5h-5zM235 13h6v5h-6zM108 18h5v5h-5zM119 23h5v6h-5zM219 23h5v6h-5zM119 29h5v5h-5zM169 29h5v5h-5zM224 34h11v5h-11zM347 34h5v5h-5zM108 39h5v6h-5zM180 39h5v6h-5zM258 39h5v6h-5zM313 45h6v5h-6zM63 50h6v5h-6zM130 50h6v5h-6zM235 50h12v5h-12zM285 50h6v5h-6zM197 55h5v6h-5zM324 55h6v6h-6zM130 61h6v5h-6zM169 61h5v5h-5zM241 61h6v5h-6zM263 61h11v5h-11zM285 61h6v5h-6zM102 66h6v5h-6zM158 71h5v6h-5zM213 71h6v6h-6zM185 77h6v5h-6zM235 77h6v5h-6zM141 82h6v5h-6zM58 87h5v6h-5zM269 87h5v6h-5zM313 87h6v6h-6zM219 93h5v5h-5zM252 93h6v5h-6zM308 93h5v5h-5zM169 98h5v5h-5zM180 98h5v5h-5zM258 98h5v5h-5zM380 98h5v5h-5zM385 103h6v6h-6zM158 109h5v5h-5zM191 109h6v5h-6zM297 114h5v5h-5zM102 119h6v6h-6zM380 119h11v6h-11zM108 125h5v5h-5zM174 125h6v5h-6zM141 130h6v5h-6zM69 135h5v6h-5zM86 135h5v6h-5zM108 135h5v6h-5zM180 135h5v6h-5zM374 135h6v6h-6zM102 141h6v5h-6zM119 141h5v5h-5zM263 141h6v5h-6zM274 141h11v5h-11zM385 141h6v5h-6zM374 146h6v5h-6zM347 151h5v6h-5zM291 157h6v5h-6zM380 157h5v5h-5zM86 162h5v5h-5zM141 162h6v5h-6zM174 162h6v5h-6zM224 162h6v5h-6zM280 162h5v5h-5zM202 167h6v6h-6zM280 167h5v6h-5zM58 173h5v5h-5zM80 173h6v5h-6zM280 173h5v5h-5zM363 173h6v5h-6zM396 173h2v5h-2zM97 178h5v5h-5zM335 178h6v5h-6zM63 183h6v6h-6zM252 189h6v5h-6zM124 194h6v5h-6zM208 194h5v5h-5zM274 194h6v5h-6zM58 199h5v5h-5zM180 199h5v5h-5zM86 204h5v6h-5zM158 210h5v5h-5zM174 210h6v5h-6zM247 210h5v5h-5zM152 220h6v6h-6zM208 226h5v5h-5zM335 226h6v5h-6zM385 226h6v5h-6zM391 231h5v5h-5zM330 236h5v6h-5zM197 242h5v5h-5zM330 242h5v5h-5zM380 242h5v5h-5zM285 247h6v5h-6zM63 252h6v6h-6zM113 252h6v6h-6zM230 258h5v5h-5zM86 263h5v5h-5zM308 263h5v5h-5zM369 263h5v5h-5zM158 268h5v6h-5zM180 268h5v6h-5zM235 268h6v6h-6zM380 268h5v6h-5zM119 274h5v5h-5zM141 274h6v5h-6zM86 279h5v5h-5zM358 284h5v6h-5zM113 290h6v5h-6zM130 290h6v5h-6zM169 290h5v5h-5zM341 290h6v5h-6zM363 295h6v5h-6zM108 306h5v5h-5zM341 306h6v5h-6zM396 306h2v5h-2zM102 311h6v5h-6zM152 311h6v5h-6zM391 311h5v5h-5zM185 316h6v6h-6zM202 316h6v6h-6zM358 316h5v6h-5zM396 316h2v6h-2zM147 322h5v5h-5zM285 322h6v5h-6zM297 322h5v5h-5zM58 327h5v5h-5zM69 327h5v5h-5zM352 327h6v5h-6zM191 332h6v6h-6zM302 332h6v6h-6zM174 338h6v5h-6zM391 338h5v5h-5zM191 343h6v5h-6zM291 343h6v5h-6zM352 343h6v5h-6zM363 354h6v5h-6zM374 354h6v5h-6zM91 359h6v5h-6zM180 359h5v5h-5zM58 364h5v6h-5zM97 364h5v6h-5zM124 364h6v6h-6zM263 364h6v6h-6zM396 364h2v6h-2zM102 370h6v5h-6zM302 370h6v5h-6zM341 370h6v5h-6zM358 370h5v5h-5zM396 370h2v5h-2zM97 375h5v5h-5zM269 375h5v5h-5zM347 375h5v5h-5zM396 375h2v5h-2zM285 380h6v6h-6zM313 380h6v6h-6zM391 380h5v6h-5zM258 386h11v5h-11zM302 386h6v5h-6zM380 386h5v5h-5zM124 391h6v5h-6zM308 391h5v5h-5zM58 396h5v5h-5zM80 396h6v5h-6zM124 396h6v5h-6zM169 396h5v5h-5zM147 401h5v6h-5zM313 401h6v6h-6zM347 401h5v6h-5zM308 407h5v5h-5zM141 412h6v5h-6zM252 412h6v5h-6zM91 423h6v5h-6zM113 423h6v5h-6zM235 423h6v5h-6zM258 423h5v5h-5zM363 423h6v5h-6zM74 428h6v5h-6zM263 428h6v5h-6zM302 428h6v5h-6zM363 428h6v5h-6zM141 433h6v6h-6zM297 433h5v6h-5zM263 439h6v5h-6zM102 444h11v5h-11zM274 444h6v5h-6zM330 444h5v5h-5zM202 449h6v6h-6zM347 449h5v6h-5zM385 449h6v6h-6zM180 455h5v5h-5zM263 455h6v5h-6zM302 455h6v5h-6zM319 455h5v5h-5zM147 460h5v5h-5zM180 460h5v5h-5zM291 460h6v5h-6zM241 465h6v6h-6zM347 465h5v6h-5zM213 471h6v5h-6zM152 476h6v5h-6zM219 476h16v5h-16zM185 481h12v6h-12zM230 481h5v6h-5zM252 481h6v6h-6zM263 481h6v6h-6zM291 481h6v6h-6zM313 481h11v6h-11zM147 487h5v5h-5zM202 487h6v5h-6zM274 487h6v5h-6zM380 487h5v5h-5zM380 492h5v5h-5zM352 497h6v6h-6zM385 497h6v6h-6zM86 503h5v5h-5zM58 508h5v5h-5zM163 508h6v5h-6zM247 508h5v5h-5zM319 508h5v5h-5zM396 508h2v5h-2zM241 519h6v5h-6zM374 519h6v5h-6zM280 524h5v5h-5zM152 529h6v6h-6zM169 529h5v6h-5zM230 529h5v6h-5zM263 529h6v6h-6zM291 529h6v6h-6zM152 535h6v5h-6zM163 535h6v5h-6zM313 535h6v5h-6zM391 540h5v5h-5zM63 545h6v1h-6zM86 545h5v1h-5zM141 545h6v1h-6z"/><path fill="rgb(109,109,109)" d="M197 13h5v5h-5zM297 13h5v5h-5zM86 18h5v5h-5zM102 18h6v5h-6zM235 18h6v5h-6zM302 18h6v5h-6zM191 23h11v6h-11zM302 23h6v6h-6zM91 29h6v5h-6zM213 39h6v6h-6zM308 39h5v6h-5zM219 45h5v5h-5zM191 50h6v5h-6zM330 50h5v5h-5zM258 55h5v6h-5zM302 55h6v6h-6zM147 61h5v5h-5zM152 66h6v5h-6zM319 66h5v5h-5zM63 71h6v6h-6zM169 71h5v6h-5zM308 71h5v6h-5zM102 77h6v5h-6zM202 77h6v5h-6zM269 77h5v5h-5zM374 77h11v5h-11zM69 82h5v5h-5zM191 82h11v5h-11zM374 87h6v6h-6zM280 98h5v5h-5zM297 98h5v5h-5zM141 103h6v6h-6zM269 103h5v6h-5zM352 109h6v5h-6zM174 114h6v5h-6zM391 114h5v5h-5zM224 119h6v6h-6zM269 119h5v6h-5zM347 125h11v5h-11zM136 130h5v5h-5zM152 130h6v5h-6zM213 130h6v5h-6zM274 130h6v5h-6zM147 135h5v6h-5zM202 135h6v6h-6zM224 135h6v6h-6zM269 135h5v6h-5zM174 141h6v5h-6zM363 141h6v5h-6zM396 141h2v5h-2zM58 146h5v5h-5zM235 146h6v5h-6zM385 146h6v5h-6zM358 151h5v6h-5zM191 157h6v5h-6zM247 157h5v5h-5zM347 157h5v5h-5zM147 162h5v5h-5zM158 162h5v5h-5zM363 162h6v5h-6zM158 167h5v6h-5zM174 167h6v6h-6zM113 173h6v5h-6zM202 173h6v5h-6zM191 178h6v5h-6zM391 178h5v5h-5zM113 183h6v6h-6zM385 183h6v6h-6zM119 189h5v5h-5zM213 189h6v5h-6zM235 189h6v5h-6zM58 194h5v5h-5zM247 194h5v5h-5zM247 199h5v5h-5zM352 199h6v5h-6zM63 204h6v6h-6zM158 204h5v6h-5zM330 204h5v6h-5zM147 210h5v5h-5zM297 215h5v5h-5zM363 215h6v5h-6zM347 231h5v5h-5zM369 231h5v5h-5zM169 236h5v6h-5zM208 236h11v6h-11zM124 242h6v5h-6zM224 247h6v5h-6zM280 247h5v5h-5zM202 252h6v6h-6zM219 252h5v6h-5zM152 258h6v5h-6zM113 263h6v5h-6zM158 263h5v5h-5zM80 268h6v6h-6zM208 268h5v6h-5zM180 274h5v5h-5zM313 274h6v5h-6zM380 274h5v5h-5zM74 279h6v5h-6zM391 284h5v6h-5zM297 290h5v5h-5zM113 295h6v5h-6zM308 295h5v5h-5zM341 300h6v6h-6zM180 306h5v5h-5zM313 306h6v5h-6zM74 311h6v5h-6zM124 311h6v5h-6zM174 311h6v5h-6zM396 311h2v5h-2zM86 316h5v6h-5zM141 316h6v6h-6zM374 316h6v6h-6zM91 322h6v5h-6zM108 322h5v5h-5zM185 322h6v5h-6zM291 322h6v5h-6zM341 322h6v5h-6zM352 322h6v5h-6zM391 322h5v5h-5zM74 327h6v5h-6zM163 327h6v5h-6zM385 327h6v5h-6zM180 332h5v6h-5zM319 332h5v6h-5zM341 332h6v6h-6zM308 338h5v5h-5zM169 343h5v5h-5zM297 343h5v5h-5zM163 348h6v6h-6zM241 348h6v6h-6zM258 348h5v6h-5zM269 348h11v6h-11zM341 348h6v6h-6zM396 348h2v6h-2zM80 354h6v5h-6zM241 354h6v5h-6zM258 354h5v5h-5zM308 354h5v5h-5zM86 359h5v5h-5zM86 364h5v6h-5zM158 364h5v6h-5zM297 364h5v6h-5zM113 380h6v6h-6zM174 380h6v6h-6zM108 386h5v5h-5zM297 386h5v5h-5zM374 386h6v5h-6zM391 386h7v5h-7zM174 391h6v5h-6zM385 391h6v5h-6zM130 396h6v5h-6zM252 396h6v5h-6zM63 401h6v6h-6zM124 401h6v6h-6zM69 407h5v5h-5zM158 407h5v5h-5zM335 407h6v5h-6zM380 407h5v5h-5zM147 412h5v5h-5zM208 412h5v5h-5zM263 412h11v5h-11zM302 412h6v5h-6zM130 417h6v6h-6zM224 417h6v6h-6zM274 417h6v6h-6zM124 423h6v5h-6zM158 423h5v5h-5zM280 423h5v5h-5zM291 423h6v5h-6zM335 423h6v5h-6zM108 428h5v5h-5zM141 428h6v5h-6zM308 428h5v5h-5zM308 433h5v6h-5zM147 439h5v5h-5zM258 439h5v5h-5zM396 439h2v5h-2zM291 444h6v5h-6zM113 449h6v6h-6zM124 449h6v6h-6zM285 449h6v6h-6zM158 455h5v5h-5zM291 455h6v5h-6zM185 460h6v5h-6zM219 460h5v5h-5zM363 460h11v5h-11zM108 465h5v6h-5zM230 465h5v6h-5zM308 465h5v6h-5zM174 471h6v5h-6zM285 471h6v5h-6zM347 471h5v5h-5zM324 476h6v5h-6zM391 476h7v5h-7zM91 481h6v6h-6zM91 487h6v5h-6zM235 487h6v5h-6zM291 487h6v5h-6zM297 492h5v5h-5zM319 497h5v6h-5zM369 497h5v6h-5zM119 503h5v5h-5zM219 503h5v5h-5zM69 508h5v5h-5zM263 508h6v5h-6zM374 513h6v6h-6zM396 513h2v6h-2zM324 519h6v5h-6zM136 529h5v6h-5zM202 535h6v5h-6zM136 540h5v5h-5zM202 540h6v5h-6zM324 540h6v5h-6zM91 545h6v1h-6zM113 545h6v1h-6z"/><path fill="rgb(112,112,112)" d="M258 9h5v4h-5zM335 9h6v4h-6zM374 9h6v4h-6zM252 13h6v5h-6zM313 13h6v5h-6zM74 18h6v5h-6zM63 29h11v5h-11zM202 29h6v5h-6zM241 29h6v5h-6zM341 29h6v5h-6zM380 29h5v5h-5zM80 34h6v5h-6zM97 34h5v5h-5zM185 45h6v5h-6zM197 45h5v5h-5zM230 45h5v5h-5zM263 45h6v5h-6zM335 45h6v5h-6zM113 50h6v5h-6zM191 61h6v5h-6zM58 66h5v5h-5zM235 66h6v5h-6zM247 66h5v5h-5zM380 66h5v5h-5zM147 71h5v6h-5zM185 71h6v6h-6zM86 77h5v5h-5zM97 77h5v5h-5zM124 77h6v5h-6zM197 77h5v5h-5zM252 77h6v5h-6zM147 87h5v6h-5zM258 87h5v6h-5zM352 93h6v5h-6zM252 98h6v5h-6zM174 103h6v6h-6zM274 103h6v6h-6zM141 109h6v5h-6zM280 109h5v5h-5zM302 109h6v5h-6zM241 114h6v5h-6zM263 114h6v5h-6zM163 119h6v6h-6zM258 119h5v6h-5zM335 119h6v6h-6zM363 119h6v6h-6zM58 125h5v5h-5zM158 125h5v5h-5zM180 125h5v5h-5zM235 125h6v5h-6zM369 125h5v5h-5zM119 130h5v5h-5zM219 130h5v5h-5zM74 135h6v6h-6zM208 135h5v6h-5zM380 135h5v6h-5zM202 141h6v5h-6zM247 141h5v5h-5zM374 141h6v5h-6zM391 141h5v5h-5zM158 146h5v5h-5zM74 151h6v6h-6zM130 151h6v6h-6zM130 157h6v5h-6zM230 157h5v5h-5zM269 157h5v5h-5zM330 157h5v5h-5zM91 162h6v5h-6zM124 162h6v5h-6zM347 162h5v5h-5zM147 167h5v6h-5zM208 167h5v6h-5zM269 173h5v5h-5zM119 178h5v5h-5zM235 183h6v6h-6zM80 194h6v5h-6zM113 194h6v5h-6zM180 194h5v5h-5zM341 194h6v5h-6zM391 194h5v5h-5zM97 199h5v5h-5zM224 199h6v5h-6zM74 204h6v6h-6zM208 210h5v5h-5zM385 210h6v5h-6zM69 215h5v5h-5zM80 215h6v5h-6zM113 220h6v6h-6zM147 220h5v6h-5zM191 220h6v6h-6zM347 226h5v5h-5zM358 226h5v5h-5zM86 231h5v5h-5zM152 231h6v5h-6zM247 231h5v5h-5zM352 231h6v5h-6zM91 242h6v5h-6zM163 247h11v5h-11zM330 247h5v5h-5zM86 252h5v6h-5zM324 252h6v6h-6zM341 252h11v6h-11zM136 258h5v5h-5zM319 258h11v5h-11zM124 263h6v5h-6zM335 263h6v5h-6zM69 268h5v6h-5zM102 268h6v6h-6zM324 268h6v6h-6zM80 274h6v5h-6zM152 274h6v5h-6zM369 274h5v5h-5zM385 274h6v5h-6zM202 279h6v5h-6zM102 284h6v6h-6zM269 284h5v6h-5zM297 284h5v6h-5zM97 290h5v5h-5zM224 290h6v5h-6zM263 290h6v5h-6zM374 290h6v5h-6zM385 290h6v5h-6zM202 295h6v5h-6zM213 295h6v5h-6zM163 300h6v6h-6zM291 300h6v6h-6zM302 300h6v6h-6zM330 300h5v6h-5zM391 300h5v6h-5zM191 306h6v5h-6zM86 311h5v5h-5zM358 311h5v5h-5zM341 316h6v6h-6zM158 327h5v5h-5zM197 327h5v5h-5zM147 332h5v6h-5zM197 332h5v6h-5zM247 332h5v6h-5zM363 332h6v6h-6zM74 338h6v5h-6zM147 338h5v5h-5zM163 343h6v5h-6zM174 343h6v5h-6zM330 343h5v5h-5zM119 348h5v6h-5zM136 348h5v6h-5zM313 348h6v6h-6zM374 359h6v5h-6zM347 364h5v6h-5zM58 370h11v5h-11zM280 370h5v5h-5zM369 370h5v5h-5zM63 375h11v5h-11zM102 375h6v5h-6zM119 375h5v5h-5zM185 375h6v5h-6zM330 375h5v5h-5zM263 380h6v6h-6zM174 386h6v5h-6zM224 386h6v5h-6zM335 386h6v5h-6zM347 386h5v5h-5zM313 391h6v5h-6zM158 396h5v5h-5zM230 396h5v5h-5zM285 396h6v5h-6zM324 396h11v5h-11zM108 401h5v6h-5zM319 401h5v6h-5zM230 407h11v5h-11zM369 407h5v5h-5zM113 412h6v5h-6zM136 412h5v5h-5zM335 412h6v5h-6zM235 417h6v6h-6zM380 417h5v6h-5zM285 423h6v5h-6zM319 423h5v5h-5zM91 428h6v5h-6zM369 428h5v5h-5zM158 433h5v6h-5zM269 433h5v6h-5zM124 444h6v5h-6zM213 444h6v5h-6zM263 444h6v5h-6zM230 449h5v6h-5zM91 455h6v5h-6zM374 455h6v5h-6zM280 460h11v5h-11zM396 460h2v5h-2zM208 465h5v6h-5zM385 465h6v6h-6zM86 476h5v5h-5zM141 476h6v5h-6zM263 476h6v5h-6zM380 481h5v6h-5zM285 487h6v5h-6zM308 487h5v5h-5zM358 487h5v5h-5zM102 492h6v5h-6zM163 492h6v5h-6zM224 492h11v5h-11zM230 497h5v6h-5zM247 497h5v6h-5zM235 503h6v5h-6zM258 508h5v5h-5zM147 513h5v6h-5zM219 513h5v6h-5zM247 513h5v6h-5zM258 513h5v6h-5zM308 513h5v6h-5zM385 513h11v6h-11zM191 519h6v5h-6zM208 519h5v5h-5zM269 524h5v5h-5zM102 529h6v6h-6zM158 529h5v6h-5zM224 529h6v6h-6zM380 529h5v6h-5zM63 535h11v5h-11zM180 535h5v5h-5zM363 535h6v5h-6zM385 535h11v5h-11zM252 540h6v5h-6zM319 540h5v5h-5z"/><path fill="rgb(115,115,115)" d="M352 9h6v4h-6zM80 13h6v5h-6zM202 13h6v5h-6zM224 13h6v5h-6zM280 13h5v5h-5zM369 13h5v5h-5zM158 18h5v5h-5zM169 18h5v5h-5zM185 18h6v5h-6zM241 18h6v5h-6zM341 18h6v5h-6zM358 23h5v6h-5zM385 23h6v6h-6zM191 29h6v5h-6zM385 29h6v5h-6zM63 34h6v5h-6zM174 34h6v5h-6zM274 34h6v5h-6zM285 39h12v6h-12zM174 45h6v5h-6zM302 45h6v5h-6zM324 45h6v5h-6zM80 50h6v5h-6zM258 50h5v5h-5zM113 55h11v6h-11zM285 55h6v6h-6zM208 61h5v5h-5zM113 66h6v5h-6zM369 66h5v5h-5zM197 71h5v6h-5zM235 71h6v6h-6zM385 71h6v6h-6zM130 77h6v5h-6zM91 82h6v5h-6zM119 87h5v6h-5zM224 87h6v6h-6zM369 87h5v6h-5zM197 93h11v5h-11zM224 93h6v5h-6zM263 93h6v5h-6zM396 93h2v5h-2zM63 98h6v5h-6zM113 98h11v5h-11zM191 98h6v5h-6zM247 103h5v6h-5zM80 109h6v5h-6zM224 109h6v5h-6zM347 109h5v5h-5zM147 114h5v5h-5zM258 114h5v5h-5zM152 119h6v6h-6zM219 119h5v6h-5zM80 125h6v5h-6zM197 125h5v5h-5zM374 125h6v5h-6zM74 130h6v5h-6zM191 130h6v5h-6zM91 135h6v6h-6zM291 135h6v6h-6zM369 135h5v6h-5zM297 141h5v5h-5zM358 141h5v5h-5zM330 146h5v5h-5zM341 146h6v5h-6zM69 151h5v6h-5zM180 151h5v6h-5zM385 151h6v6h-6zM396 151h2v6h-2zM102 157h6v5h-6zM285 157h6v5h-6zM86 167h5v6h-5zM152 167h6v6h-6zM191 167h6v6h-6zM230 167h5v6h-5zM341 167h6v6h-6zM158 173h5v5h-5zM235 178h6v5h-6zM358 178h5v5h-5zM130 183h6v6h-6zM241 183h6v6h-6zM313 189h6v5h-6zM113 204h6v6h-6zM235 204h6v6h-6zM391 204h5v6h-5zM258 210h5v5h-5zM324 210h6v5h-6zM358 210h5v5h-5zM158 215h5v5h-5zM385 215h6v5h-6zM108 220h5v6h-5zM130 220h6v6h-6zM374 220h6v6h-6zM180 226h5v5h-5zM352 226h6v5h-6zM124 231h6v5h-6zM80 236h6v6h-6zM308 236h5v6h-5zM108 242h5v5h-5zM119 242h5v5h-5zM141 242h6v5h-6zM341 242h6v5h-6zM97 247h5v5h-5zM235 247h6v5h-6zM97 252h5v6h-5zM119 252h5v6h-5zM319 252h5v6h-5zM374 252h6v6h-6zM385 252h6v6h-6zM396 252h2v6h-2zM202 258h6v5h-6zM230 263h5v5h-5zM330 263h5v5h-5zM358 263h5v5h-5zM380 263h5v5h-5zM147 268h5v6h-5zM191 268h6v6h-6zM297 268h5v6h-5zM313 268h6v6h-6zM97 274h5v5h-5zM335 274h6v5h-6zM152 279h6v5h-6zM330 279h5v5h-5zM396 279h2v5h-2zM363 284h6v6h-6zM69 290h5v5h-5zM152 290h6v5h-6zM185 290h6v5h-6zM202 290h6v5h-6zM141 295h6v5h-6zM180 300h5v6h-5zM374 306h6v5h-6zM91 311h6v5h-6zM158 311h5v5h-5zM180 311h5v5h-5zM213 311h6v5h-6zM352 311h6v5h-6zM69 316h5v6h-5zM80 316h6v6h-6zM180 316h5v6h-5zM363 316h6v6h-6zM136 322h11v5h-11zM163 322h6v5h-6zM302 322h6v5h-6zM102 327h6v5h-6zM136 327h5v5h-5zM313 327h6v5h-6zM347 327h5v5h-5zM124 332h6v6h-6zM280 332h5v6h-5zM308 332h5v6h-5zM396 332h2v6h-2zM202 343h6v5h-6zM324 343h6v5h-6zM69 359h5v5h-5zM119 359h5v5h-5zM285 359h6v5h-6zM308 364h5v6h-5zM124 370h6v5h-6zM274 370h6v5h-6zM274 375h6v5h-6zM319 375h5v5h-5zM91 380h6v6h-6zM108 380h5v6h-5zM241 380h6v6h-6zM258 380h5v6h-5zM374 380h6v6h-6zM136 386h5v5h-5zM285 386h6v5h-6zM274 391h6v5h-6zM291 391h6v5h-6zM91 396h6v5h-6zM341 396h6v5h-6zM74 401h6v6h-6zM163 401h6v6h-6zM102 407h6v5h-6zM124 407h6v5h-6zM219 407h5v5h-5zM258 407h5v5h-5zM285 407h6v5h-6zM302 407h6v5h-6zM69 412h5v5h-5zM63 417h6v6h-6zM247 417h5v6h-5zM324 417h6v6h-6zM63 423h6v5h-6zM247 423h5v5h-5zM335 428h6v5h-6zM391 428h5v5h-5zM86 433h5v6h-5zM247 433h5v6h-5zM274 433h6v6h-6zM380 433h5v6h-5zM108 439h5v5h-5zM280 439h5v5h-5zM208 444h5v5h-5zM247 444h5v5h-5zM358 444h5v5h-5zM385 444h6v5h-6zM86 449h5v6h-5zM197 449h5v6h-5zM241 449h6v6h-6zM274 449h6v6h-6zM341 449h6v6h-6zM247 455h5v5h-5zM230 460h5v5h-5zM247 465h5v6h-5zM335 465h6v6h-6zM119 471h5v5h-5zM202 471h6v5h-6zM369 471h5v5h-5zM347 481h5v6h-5zM363 481h6v6h-6zM69 487h5v5h-5zM269 487h5v5h-5zM369 487h5v5h-5zM80 492h17v5h-17zM341 492h6v5h-6zM347 497h5v6h-5zM191 503h6v5h-6zM358 503h5v5h-5zM396 503h2v5h-2zM197 508h5v5h-5zM297 508h5v5h-5zM363 508h6v5h-6zM119 513h5v6h-5zM241 513h6v6h-6zM274 513h6v6h-6zM313 513h11v6h-11zM213 519h6v5h-6zM341 519h6v5h-6zM80 524h6v5h-6zM58 535h5v5h-5zM91 535h6v5h-6zM113 535h6v5h-6zM374 535h6v5h-6zM152 540h6v5h-6zM69 545h5v1h-5zM80 545h6v1h-6zM213 545h6v1h-6zM230 545h5v1h-5z"/><path fill="rgb(118,118,118)" d="M108 9h5v4h-5zM130 9h6v4h-6zM202 9h6v4h-6zM224 9h6v4h-6zM69 13h5v5h-5zM119 18h5v5h-5zM285 18h6v5h-6zM313 18h6v5h-6zM369 23h5v6h-5zM97 29h5v5h-5zM374 29h6v5h-6zM213 34h6v5h-6zM241 34h6v5h-6zM130 39h6v6h-6zM69 45h5v5h-5zM119 45h5v5h-5zM147 45h5v5h-5zM202 45h6v5h-6zM247 45h5v5h-5zM369 45h5v5h-5zM69 50h5v5h-5zM108 50h5v5h-5zM163 50h6v5h-6zM208 50h5v5h-5zM297 50h5v5h-5zM69 55h5v6h-5zM80 55h6v6h-6zM330 55h5v6h-5zM158 61h5v5h-5zM247 61h5v5h-5zM258 61h5v5h-5zM302 61h6v5h-6zM86 66h11v5h-11zM330 66h5v5h-5zM91 71h6v6h-6zM141 71h6v6h-6zM335 71h6v6h-6zM69 77h5v5h-5zM113 77h11v5h-11zM308 82h5v5h-5zM369 82h5v5h-5zM202 87h6v6h-6zM302 87h6v6h-6zM230 93h5v5h-5zM158 98h11v5h-11zM363 98h6v5h-6zM74 103h6v6h-6zM219 103h5v6h-5zM241 103h6v6h-6zM297 103h5v6h-5zM58 109h5v5h-5zM69 114h5v5h-5zM213 114h6v5h-6zM252 114h6v5h-6zM269 114h5v5h-5zM291 114h6v5h-6zM136 119h5v6h-5zM280 119h5v6h-5zM297 119h5v6h-5zM224 125h6v5h-6zM258 125h5v5h-5zM363 125h6v5h-6zM113 130h6v5h-6zM80 135h6v6h-6zM69 141h5v5h-5zM147 141h5v5h-5zM158 141h5v5h-5zM208 141h5v5h-5zM380 141h5v5h-5zM91 146h6v5h-6zM219 146h5v5h-5zM352 146h6v5h-6zM136 151h5v6h-5zM258 151h5v6h-5zM274 151h11v6h-11zM391 151h5v6h-5zM169 157h5v5h-5zM363 157h6v5h-6zM247 162h5v5h-5zM335 162h6v5h-6zM219 167h5v6h-5zM391 167h5v6h-5zM63 173h6v5h-6zM174 173h6v5h-6zM213 173h6v5h-6zM263 173h6v5h-6zM274 173h6v5h-6zM352 173h6v5h-6zM152 178h6v5h-6zM208 183h5v6h-5zM330 183h5v6h-5zM130 189h6v5h-6zM180 189h5v5h-5zM191 189h6v5h-6zM230 189h5v5h-5zM74 194h6v5h-6zM313 194h6v5h-6zM324 194h6v5h-6zM130 199h6v5h-6zM369 199h5v5h-5zM152 204h6v6h-6zM208 204h5v6h-5zM108 210h5v5h-5zM224 210h6v5h-6zM86 215h5v5h-5zM141 215h6v5h-6zM213 215h6v5h-6zM341 215h6v5h-6zM136 226h5v5h-5zM324 226h6v5h-6zM391 226h5v5h-5zM97 231h5v5h-5zM174 231h6v5h-6zM335 231h6v5h-6zM102 236h6v6h-6zM324 236h6v6h-6zM347 236h5v6h-5zM97 242h5v5h-5zM302 242h6v5h-6zM391 242h5v5h-5zM102 247h6v5h-6zM202 247h6v5h-6zM324 247h6v5h-6zM396 247h2v5h-2zM69 258h5v5h-5zM86 258h5v5h-5zM130 258h6v5h-6zM235 258h6v5h-6zM308 258h5v5h-5zM152 263h6v5h-6zM180 263h5v5h-5zM280 263h5v5h-5zM347 263h11v5h-11zM391 263h7v5h-7zM358 268h5v6h-5zM108 274h5v5h-5zM297 274h5v5h-5zM130 284h6v6h-6zM313 284h6v6h-6zM374 284h6v6h-6zM174 290h6v5h-6zM269 290h5v5h-5zM291 295h6v5h-6zM347 300h5v6h-5zM185 311h6v5h-6zM269 311h5v5h-5zM119 316h5v6h-5zM269 316h5v6h-5zM113 322h6v5h-6zM124 322h6v5h-6zM380 322h5v5h-5zM63 327h6v5h-6zM169 327h5v5h-5zM191 327h6v5h-6zM158 332h5v6h-5zM174 332h6v6h-6zM202 332h6v6h-6zM291 332h6v6h-6zM313 332h6v6h-6zM197 338h5v5h-5zM363 338h6v5h-6zM69 343h5v5h-5zM185 343h6v5h-6zM197 343h5v5h-5zM285 343h6v5h-6zM119 354h5v5h-5zM130 354h6v5h-6zM147 354h5v5h-5zM247 354h5v5h-5zM313 354h6v5h-6zM330 354h5v5h-5zM169 359h5v5h-5zM280 359h5v5h-5zM380 359h5v5h-5zM80 364h6v6h-6zM274 364h6v6h-6zM352 364h6v6h-6zM391 364h5v6h-5zM169 370h5v5h-5zM319 370h5v5h-5zM147 375h5v5h-5zM252 375h6v5h-6zM363 375h6v5h-6zM224 380h6v6h-6zM130 386h6v5h-6zM163 386h6v5h-6zM252 386h6v5h-6zM80 391h6v5h-6zM158 391h5v5h-5zM241 391h6v5h-6zM141 396h6v5h-6zM269 396h5v5h-5zM280 401h5v6h-5zM86 407h5v5h-5zM352 412h6v5h-6zM363 412h6v5h-6zM141 417h6v6h-6zM258 417h5v6h-5zM347 417h5v6h-5zM102 423h6v5h-6zM130 423h6v5h-6zM330 423h5v5h-5zM358 423h5v5h-5zM219 428h5v5h-5zM63 439h6v5h-6zM358 439h5v5h-5zM230 444h5v5h-5zM358 449h5v6h-5zM341 455h6v5h-6zM308 460h5v5h-5zM391 460h5v5h-5zM224 465h6v6h-6zM252 465h6v6h-6zM297 465h5v6h-5zM191 471h6v5h-6zM302 471h6v5h-6zM163 476h6v5h-6zM213 476h6v5h-6zM280 476h5v5h-5zM330 476h5v5h-5zM113 481h6v6h-6zM297 481h5v6h-5zM219 487h5v5h-5zM147 492h5v5h-5zM202 492h6v5h-6zM252 492h6v5h-6zM280 492h5v5h-5zM291 492h6v5h-6zM330 492h11v5h-11zM347 492h5v5h-5zM369 492h5v5h-5zM141 497h6v6h-6zM319 503h5v5h-5zM74 508h6v5h-6zM158 508h5v5h-5zM324 508h6v5h-6zM358 508h5v5h-5zM391 508h5v5h-5zM86 519h5v5h-5zM258 519h5v5h-5zM363 519h6v5h-6zM97 524h11v5h-11zM185 524h6v5h-6zM285 524h6v5h-6zM141 529h6v6h-6zM202 529h6v6h-6zM80 535h6v5h-6zM119 535h5v5h-5zM224 540h6v5h-6zM280 540h5v5h-5zM291 540h6v5h-6zM363 540h6v5h-6zM374 545h6v1h-6z"/><path fill="rgb(121,121,121)" d="M136 9h5v4h-5zM197 9h5v4h-5zM291 9h6v4h-6zM285 13h6v5h-6zM396 13h2v5h-2zM130 18h11v5h-11zM191 18h6v5h-6zM385 18h6v5h-6zM252 29h6v5h-6zM297 34h5v5h-5zM319 34h5v5h-5zM341 34h6v5h-6zM86 39h11v6h-11zM230 39h5v6h-5zM374 39h6v6h-6zM341 45h6v5h-6zM385 45h6v5h-6zM97 50h5v5h-5zM213 50h6v5h-6zM341 50h6v5h-6zM263 55h6v6h-6zM341 55h6v6h-6zM102 61h6v5h-6zM341 61h6v5h-6zM197 66h5v5h-5zM102 71h6v6h-6zM263 71h6v6h-6zM330 77h5v5h-5zM263 82h6v5h-6zM385 82h6v5h-6zM74 87h6v6h-6zM108 87h11v6h-11zM263 87h6v6h-6zM297 87h5v6h-5zM119 93h5v5h-5zM130 93h6v5h-6zM269 93h5v5h-5zM69 98h5v5h-5zM147 98h5v5h-5zM230 98h5v5h-5zM374 98h6v5h-6zM191 103h6v6h-6zM308 103h5v6h-5zM352 103h6v6h-6zM69 109h5v5h-5zM108 109h11v5h-11zM130 109h6v5h-6zM80 114h6v5h-6zM124 114h6v5h-6zM219 114h5v5h-5zM230 119h11v6h-11zM369 119h5v6h-5zM63 130h6v5h-6zM102 130h6v5h-6zM124 130h6v5h-6zM297 130h5v5h-5zM363 130h6v5h-6zM113 135h6v6h-6zM169 141h5v5h-5zM341 141h6v5h-6zM69 146h5v5h-5zM86 146h5v5h-5zM247 146h5v5h-5zM119 151h5v6h-5zM263 151h6v6h-6zM285 151h6v6h-6zM341 151h6v6h-6zM363 151h6v6h-6zM208 157h5v5h-5zM136 162h5v5h-5zM230 162h5v5h-5zM369 162h5v5h-5zM69 167h5v6h-5zM252 167h6v6h-6zM274 167h6v6h-6zM86 173h5v5h-5zM369 173h5v5h-5zM174 178h6v5h-6zM341 178h6v5h-6zM163 183h6v6h-6zM374 183h6v6h-6zM63 189h6v5h-6zM108 189h5v5h-5zM124 189h6v5h-6zM202 189h6v5h-6zM174 194h6v5h-6zM263 194h6v5h-6zM363 194h6v5h-6zM385 194h6v5h-6zM197 199h5v5h-5zM335 199h6v5h-6zM252 204h6v6h-6zM119 215h5v5h-5zM369 215h5v5h-5zM119 220h5v6h-5zM136 220h5v6h-5zM102 226h6v5h-6zM130 231h6v5h-6zM213 231h6v5h-6zM302 231h6v5h-6zM358 231h5v5h-5zM185 236h6v6h-6zM297 236h5v6h-5zM58 242h5v5h-5zM313 242h6v5h-6zM158 247h5v5h-5zM169 252h5v6h-5zM285 252h12v6h-12zM224 258h6v5h-6zM352 258h6v5h-6zM385 258h6v5h-6zM396 258h2v5h-2zM169 263h5v5h-5zM341 263h6v5h-6zM113 268h6v6h-6zM291 268h6v6h-6zM274 274h6v5h-6zM158 279h5v5h-5zM219 284h5v6h-5zM352 284h6v6h-6zM369 284h5v6h-5zM158 290h5v5h-5zM180 295h5v5h-5zM313 295h11v5h-11zM335 295h12v5h-12zM185 300h6v6h-6zM213 306h6v5h-6zM363 306h6v5h-6zM130 311h6v5h-6zM97 322h5v5h-5zM158 322h5v5h-5zM313 322h6v5h-6zM80 327h6v5h-6zM208 327h5v5h-5zM252 327h6v5h-6zM302 327h6v5h-6zM358 327h5v5h-5zM208 332h5v6h-5zM258 332h5v6h-5zM297 332h5v6h-5zM358 338h5v5h-5zM385 338h6v5h-6zM396 338h2v5h-2zM80 348h6v6h-6zM174 348h6v6h-6zM285 348h6v6h-6zM319 354h5v5h-5zM124 359h6v5h-6zM241 359h6v5h-6zM252 364h6v6h-6zM269 364h5v6h-5zM324 364h6v6h-6zM252 370h6v5h-6zM269 370h5v5h-5zM335 370h6v5h-6zM347 370h11v5h-11zM180 375h5v5h-5zM308 375h5v5h-5zM86 386h5v5h-5zM185 386h6v5h-6zM119 391h5v5h-5zM86 396h5v5h-5zM180 396h5v5h-5zM235 396h6v5h-6zM113 401h6v6h-6zM130 401h6v6h-6zM363 407h6v5h-6zM74 412h12v5h-12zM163 417h6v6h-6zM80 433h6v6h-6zM102 433h6v6h-6zM330 433h5v6h-5zM113 439h6v5h-6zM163 439h6v5h-6zM285 439h6v5h-6zM352 439h6v5h-6zM374 439h6v5h-6zM396 444h2v5h-2zM152 449h6v6h-6zM252 449h6v6h-6zM324 449h6v6h-6zM208 460h5v5h-5zM86 465h5v6h-5zM113 465h6v6h-6zM124 465h6v6h-6zM169 465h5v6h-5zM197 465h5v6h-5zM91 471h6v5h-6zM130 471h6v5h-6zM352 471h6v5h-6zM308 481h5v6h-5zM297 487h5v5h-5zM363 487h6v5h-6zM197 492h5v5h-5zM74 497h6v6h-6zM180 497h5v6h-5zM396 497h2v6h-2zM141 503h6v5h-6zM202 503h6v5h-6zM247 503h5v5h-5zM86 508h5v5h-5zM208 508h5v5h-5zM58 513h5v6h-5zM252 513h6v6h-6zM285 513h6v6h-6zM130 519h6v5h-6zM269 519h11v5h-11zM113 524h6v5h-6zM130 524h11v5h-11zM374 524h6v5h-6zM269 529h5v6h-5zM297 529h5v6h-5zM347 529h5v6h-5zM396 529h2v6h-2zM263 540h6v5h-6zM208 545h5v1h-5zM269 545h5v1h-5z"/><path fill="rgb(124,124,124)" d="M141 9h6v4h-6zM219 9h5v4h-5zM319 9h11v4h-11zM169 13h5v5h-5zM191 13h6v5h-6zM230 13h5v5h-5zM319 13h5v5h-5zM152 18h6v5h-6zM130 23h6v6h-6zM347 23h5v6h-5zM74 29h6v5h-6zM274 29h6v5h-6zM58 34h5v5h-5zM69 34h5v5h-5zM324 39h6v6h-6zM391 39h7v6h-7zM80 45h6v5h-6zM136 45h5v5h-5zM180 45h5v5h-5zM213 45h6v5h-6zM280 45h5v5h-5zM347 45h5v5h-5zM119 50h5v5h-5zM363 55h6v6h-6zM113 61h6v5h-6zM396 61h2v5h-2zM130 66h6v5h-6zM141 66h6v5h-6zM180 66h5v5h-5zM224 66h6v5h-6zM252 66h6v5h-6zM263 66h6v5h-6zM152 77h6v5h-6zM258 77h5v5h-5zM396 77h2v5h-2zM219 82h5v5h-5zM352 82h11v5h-11zM213 87h6v6h-6zM252 87h6v6h-6zM324 87h6v6h-6zM363 87h6v6h-6zM374 93h6v5h-6zM385 93h6v5h-6zM80 98h6v5h-6zM241 98h6v5h-6zM285 98h6v5h-6zM385 98h6v5h-6zM185 103h6v6h-6zM152 109h6v5h-6zM152 114h6v5h-6zM63 119h6v6h-6zM174 119h6v6h-6zM285 119h6v6h-6zM74 125h6v5h-6zM341 125h6v5h-6zM230 130h5v5h-5zM252 130h6v5h-6zM63 141h6v5h-6zM80 141h6v5h-6zM230 146h5v5h-5zM324 146h6v5h-6zM380 146h5v5h-5zM74 162h6v5h-6zM163 162h6v5h-6zM380 162h5v5h-5zM102 167h6v6h-6zM197 167h5v6h-5zM235 167h6v6h-6zM352 167h6v6h-6zM119 173h5v5h-5zM385 173h6v5h-6zM169 178h5v5h-5zM247 178h11v5h-11zM385 178h6v5h-6zM252 183h11v6h-11zM391 183h5v6h-5zM341 189h6v5h-6zM169 194h5v5h-5zM374 194h6v5h-6zM147 199h5v5h-5zM385 199h6v5h-6zM174 204h6v6h-6zM91 215h6v5h-6zM163 215h11v5h-11zM197 215h5v5h-5zM247 215h5v5h-5zM297 220h5v6h-5zM58 226h5v5h-5zM108 226h5v5h-5zM241 226h6v5h-6zM313 226h6v5h-6zM169 231h5v5h-5zM141 236h6v6h-6zM174 236h6v6h-6zM380 236h5v6h-5zM297 242h5v5h-5zM141 247h6v5h-6zM197 247h5v5h-5zM319 247h5v5h-5zM347 247h5v5h-5zM130 252h6v6h-6zM180 252h5v6h-5zM308 252h5v6h-5zM163 258h6v5h-6zM197 258h5v5h-5zM335 258h6v5h-6zM136 268h5v6h-5zM163 268h6v6h-6zM202 268h6v6h-6zM308 268h5v6h-5zM113 274h6v5h-6zM130 274h6v5h-6zM169 274h5v5h-5zM208 274h5v5h-5zM391 279h5v5h-5zM80 284h11v6h-11zM180 284h5v6h-5zM308 284h5v6h-5zM108 290h5v5h-5zM124 290h6v5h-6zM197 295h5v5h-5zM369 295h5v5h-5zM119 300h5v6h-5zM380 300h5v6h-5zM58 306h11v5h-11zM136 306h11v5h-11zM152 306h6v5h-6zM97 311h5v5h-5zM219 311h5v5h-5zM58 316h5v6h-5zM158 316h5v6h-5zM197 316h5v6h-5zM208 322h5v5h-5zM263 322h6v5h-6zM358 332h5v6h-5zM80 338h6v5h-6zM102 338h6v5h-6zM130 338h6v5h-6zM191 338h6v5h-6zM263 338h6v5h-6zM369 338h5v5h-5zM130 343h6v5h-6zM158 343h5v5h-5zM369 348h5v6h-5zM63 354h6v5h-6zM97 354h5v5h-5zM158 354h5v5h-5zM197 354h5v5h-5zM274 354h6v5h-6zM396 354h2v5h-2zM174 359h6v5h-6zM197 359h5v5h-5zM258 359h5v5h-5zM274 359h6v5h-6zM291 359h6v5h-6zM163 364h6v6h-6zM191 364h6v6h-6zM330 364h5v6h-5zM369 364h5v6h-5zM163 375h6v5h-6zM230 375h5v5h-5zM80 380h6v6h-6zM80 386h6v5h-6zM113 386h6v5h-6zM247 386h5v5h-5zM313 386h6v5h-6zM341 386h6v5h-6zM152 391h6v5h-6zM185 391h6v5h-6zM263 391h6v5h-6zM335 391h6v5h-6zM347 391h5v5h-5zM297 396h5v5h-5zM352 396h6v5h-6zM119 401h5v6h-5zM169 412h5v5h-5zM258 412h5v5h-5zM391 412h5v5h-5zM141 423h6v5h-6zM230 428h5v5h-5zM319 428h5v5h-5zM374 428h6v5h-6zM213 433h6v6h-6zM280 433h5v6h-5zM313 433h6v6h-6zM324 433h6v6h-6zM80 439h6v5h-6zM124 439h6v5h-6zM191 439h6v5h-6zM202 439h6v5h-6zM58 444h5v5h-5zM119 444h5v5h-5zM91 449h6v6h-6zM202 455h6v5h-6zM136 465h5v6h-5zM258 465h5v6h-5zM319 465h5v6h-5zM330 465h5v6h-5zM358 465h5v6h-5zM396 465h2v6h-2zM235 471h6v5h-6zM358 471h5v5h-5zM202 476h6v5h-6zM147 481h5v6h-5zM202 481h6v6h-6zM258 481h5v6h-5zM374 481h6v6h-6zM86 487h5v5h-5zM191 487h6v5h-6zM302 487h6v5h-6zM347 487h5v5h-5zM169 492h5v5h-5zM185 492h6v5h-6zM291 497h6v6h-6zM308 497h5v6h-5zM197 503h5v5h-5zM113 508h6v5h-6zM274 508h11v5h-11zM380 508h5v5h-5zM180 513h5v6h-5zM335 513h6v6h-6zM185 519h6v5h-6zM302 519h6v5h-6zM163 524h6v5h-6zM224 524h6v5h-6zM391 524h5v5h-5zM219 529h5v6h-5zM391 529h5v6h-5zM147 535h5v5h-5zM274 535h6v5h-6zM91 540h6v5h-6zM108 540h5v5h-5zM241 540h6v5h-6zM202 545h6v1h-6z"/><path fill="rgb(127,127,127)" d="M58 9h5v4h-5zM158 9h5v4h-5zM341 9h6v4h-6zM385 9h11v4h-11zM147 13h5v5h-5zM302 13h6v5h-6zM97 18h5v5h-5zM280 18h5v5h-5zM291 18h6v5h-6zM86 23h5v6h-5zM97 23h5v6h-5zM147 23h5v6h-5zM158 23h5v6h-5zM208 23h5v6h-5zM258 23h5v6h-5zM269 23h5v6h-5zM113 29h6v5h-6zM180 29h5v5h-5zM169 34h5v5h-5zM369 34h5v5h-5zM113 39h6v6h-6zM247 39h5v6h-5zM91 45h6v5h-6zM152 45h6v5h-6zM274 45h6v5h-6zM297 45h5v5h-5zM108 55h5v6h-5zM224 55h6v6h-6zM241 55h6v6h-6zM252 55h6v6h-6zM330 61h11v5h-11zM374 61h6v5h-6zM158 66h5v5h-5zM169 66h5v5h-5zM191 66h6v5h-6zM152 71h6v6h-6zM274 77h11v5h-11zM358 77h5v5h-5zM241 82h6v5h-6zM97 87h5v6h-5zM169 87h5v6h-5zM113 93h6v5h-6zM191 93h6v5h-6zM219 98h5v5h-5zM63 103h6v6h-6zM97 103h5v6h-5zM147 103h5v6h-5zM230 103h5v6h-5zM252 103h11v6h-11zM280 103h5v6h-5zM385 109h6v5h-6zM224 114h6v5h-6zM341 114h6v5h-6zM124 119h12v6h-12zM274 119h6v6h-6zM163 125h6v5h-6zM335 130h6v5h-6zM197 135h5v6h-5zM252 135h6v6h-6zM335 135h6v6h-6zM63 146h6v5h-6zM252 151h6v6h-6zM86 157h5v5h-5zM263 157h6v5h-6zM69 162h5v5h-5zM319 162h5v5h-5zM335 167h6v6h-6zM347 167h5v6h-5zM208 173h5v5h-5zM380 173h5v5h-5zM102 178h6v5h-6zM180 183h5v6h-5zM97 189h11v5h-11zM224 189h6v5h-6zM258 189h5v5h-5zM380 189h5v5h-5zM224 194h6v5h-6zM302 194h6v5h-6zM102 199h6v5h-6zM274 199h6v5h-6zM319 199h5v5h-5zM230 204h5v6h-5zM352 204h6v6h-6zM313 210h6v5h-6zM335 210h6v5h-6zM380 215h5v5h-5zM102 220h6v6h-6zM169 220h5v6h-5zM230 220h5v6h-5zM241 220h6v6h-6zM197 226h5v5h-5zM58 231h5v5h-5zM202 231h6v5h-6zM219 231h5v5h-5zM291 231h11v5h-11zM58 236h5v6h-5zM69 236h5v6h-5zM147 236h5v6h-5zM63 242h6v5h-6zM230 242h5v5h-5zM358 242h5v5h-5zM69 247h5v5h-5zM91 247h6v5h-6zM352 247h11v5h-11zM69 252h5v6h-5zM147 252h5v6h-5zM163 252h6v6h-6zM113 258h17v5h-17zM247 258h5v5h-5zM119 263h5v5h-5zM136 263h5v5h-5zM174 268h6v6h-6zM185 274h6v5h-6zM185 284h6v6h-6zM141 290h6v5h-6zM219 290h5v5h-5zM230 290h5v5h-5zM330 290h5v5h-5zM380 290h5v5h-5zM86 295h5v5h-5zM208 300h11v6h-11zM91 306h6v5h-6zM119 306h5v5h-5zM185 306h6v5h-6zM391 306h5v5h-5zM263 311h6v5h-6zM335 311h6v5h-6zM63 316h6v6h-6zM130 316h11v6h-11zM324 316h6v6h-6zM391 316h5v6h-5zM69 322h5v5h-5zM102 322h6v5h-6zM319 322h5v5h-5zM308 327h5v5h-5zM119 332h5v6h-5zM141 332h6v6h-6zM63 338h6v5h-6zM302 338h6v5h-6zM380 338h5v5h-5zM63 343h6v5h-6zM119 343h5v5h-5zM341 343h6v5h-6zM97 348h5v6h-5zM124 348h6v6h-6zM247 348h11v6h-11zM380 348h5v6h-5zM141 354h6v5h-6zM152 354h6v5h-6zM291 354h6v5h-6zM380 354h5v5h-5zM297 359h5v5h-5zM369 359h5v5h-5zM63 364h6v6h-6zM102 364h6v6h-6zM119 364h5v6h-5zM241 364h6v6h-6zM358 364h5v6h-5zM136 370h5v5h-5zM97 380h5v6h-5zM319 386h5v5h-5zM141 391h6v5h-6zM269 391h5v5h-5zM147 396h5v5h-5zM313 396h6v5h-6zM369 396h5v5h-5zM330 401h5v6h-5zM130 407h6v5h-6zM291 407h6v5h-6zM374 407h6v5h-6zM369 412h5v5h-5zM269 417h5v6h-5zM313 417h6v6h-6zM258 428h5v5h-5zM341 433h11v6h-11zM369 433h5v6h-5zM335 439h6v5h-6zM341 444h6v5h-6zM374 449h6v6h-6zM63 455h6v5h-6zM141 455h6v5h-6zM219 455h5v5h-5zM352 455h6v5h-6zM396 455h2v5h-2zM74 460h6v5h-6zM91 460h6v5h-6zM163 465h6v6h-6zM291 465h6v6h-6zM369 465h5v6h-5zM80 471h6v5h-6zM330 471h5v5h-5zM391 471h5v5h-5zM185 476h6v5h-6zM258 476h5v5h-5zM274 476h6v5h-6zM291 476h6v5h-6zM302 476h6v5h-6zM108 481h5v6h-5zM152 481h6v6h-6zM274 481h6v6h-6zM369 481h5v6h-5zM63 487h6v5h-6zM224 487h6v5h-6zM269 492h5v5h-5zM235 497h6v6h-6zM280 497h5v6h-5zM102 503h6v5h-6zM130 503h6v5h-6zM291 503h6v5h-6zM313 503h6v5h-6zM335 503h6v5h-6zM374 503h11v5h-11zM285 508h6v5h-6zM97 513h5v6h-5zM152 513h6v6h-6zM74 519h6v5h-6zM97 519h5v5h-5zM174 519h6v5h-6zM230 519h11v5h-11zM247 519h5v5h-5zM63 524h6v5h-6zM158 524h5v5h-5zM358 524h5v5h-5zM58 529h5v6h-5zM163 529h6v6h-6zM197 535h5v5h-5zM324 535h6v5h-6zM80 540h6v5h-6zM130 540h6v5h-6zM208 540h5v5h-5zM235 540h6v5h-6zM191 545h6v1h-6zM241 545h6v1h-6zM280 545h5v1h-5zM352 545h6v1h-6zM369 545h5v1h-5z"/><path fill="rgb(130,130,130)" d="M180 9h5v4h-5zM213 9h6v4h-6zM302 9h6v4h-6zM396 9h2v4h-2zM58 13h5v5h-5zM102 13h6v5h-6zM185 13h6v5h-6zM385 13h6v5h-6zM224 18h6v5h-6zM319 18h11v5h-11zM108 23h5v6h-5zM141 23h6v6h-6zM263 23h6v6h-6zM285 23h6v6h-6zM335 23h6v6h-6zM308 29h5v5h-5zM347 29h5v5h-5zM352 34h6v5h-6zM208 39h5v6h-5zM274 39h6v6h-6zM74 45h6v5h-6zM169 45h5v5h-5zM185 50h6v5h-6zM197 50h5v5h-5zM219 50h5v5h-5zM313 50h6v5h-6zM163 55h6v6h-6zM141 61h6v5h-6zM152 61h6v5h-6zM180 61h5v5h-5zM147 66h5v5h-5zM208 66h5v5h-5zM241 71h6v6h-6zM208 77h5v5h-5zM241 77h6v5h-6zM363 77h6v5h-6zM130 82h6v5h-6zM169 82h5v5h-5zM224 82h6v5h-6zM258 82h5v5h-5zM158 87h5v6h-5zM391 87h5v6h-5zM391 93h5v5h-5zM136 98h5v5h-5zM263 98h6v5h-6zM152 103h6v6h-6zM86 109h5v5h-5zM391 109h5v5h-5zM97 114h5v5h-5zM380 114h5v5h-5zM180 119h5v6h-5zM247 119h5v6h-5zM308 119h5v6h-5zM124 125h6v5h-6zM147 125h5v5h-5zM291 125h6v5h-6zM185 130h6v5h-6zM124 135h6v6h-6zM213 135h6v6h-6zM191 146h6v5h-6zM297 146h5v5h-5zM185 151h6v6h-6zM291 151h6v6h-6zM369 151h5v6h-5zM108 157h5v5h-5zM358 162h5v5h-5zM374 162h6v5h-6zM224 167h6v6h-6zM330 167h5v6h-5zM152 173h6v5h-6zM341 173h6v5h-6zM185 178h6v5h-6zM213 178h6v5h-6zM263 178h6v5h-6zM141 183h6v6h-6zM58 189h5v5h-5zM208 189h5v5h-5zM274 189h6v5h-6zM97 194h5v5h-5zM169 199h5v5h-5zM119 204h5v6h-5zM180 204h5v6h-5zM308 204h5v6h-5zM147 215h5v5h-5zM86 220h5v6h-5zM158 220h5v6h-5zM180 220h5v6h-5zM308 220h5v6h-5zM341 220h6v6h-6zM369 220h5v6h-5zM391 220h5v6h-5zM158 226h5v5h-5zM202 226h6v5h-6zM258 226h5v5h-5zM224 231h6v5h-6zM374 242h6v5h-6zM213 247h6v5h-6zM291 247h6v5h-6zM185 252h6v6h-6zM174 263h6v5h-6zM274 263h6v5h-6zM291 263h6v5h-6zM369 268h5v6h-5zM163 274h6v5h-6zM291 274h6v5h-6zM324 274h11v5h-11zM163 279h6v5h-6zM347 279h5v5h-5zM58 284h5v6h-5zM136 284h5v6h-5zM208 284h5v6h-5zM335 290h6v5h-6zM63 295h6v5h-6zM185 295h6v5h-6zM274 295h6v5h-6zM63 300h6v6h-6zM113 300h6v6h-6zM280 300h5v6h-5zM385 300h6v6h-6zM374 311h6v5h-6zM308 316h5v6h-5zM119 322h5v5h-5zM152 322h6v5h-6zM180 322h5v5h-5zM358 322h5v5h-5zM285 327h6v5h-6zM341 327h6v5h-6zM369 332h5v6h-5zM119 338h5v5h-5zM252 338h6v5h-6zM330 338h5v5h-5zM308 343h5v5h-5zM385 343h6v5h-6zM113 354h6v5h-6zM163 354h6v5h-6zM108 359h5v5h-5zM235 359h6v5h-6zM324 370h6v5h-6zM191 375h6v5h-6zM224 375h6v5h-6zM291 380h6v6h-6zM69 386h5v5h-5zM91 386h6v5h-6zM274 386h6v5h-6zM330 386h5v5h-5zM136 391h5v5h-5zM258 391h5v5h-5zM352 391h6v5h-6zM335 396h6v5h-6zM58 401h5v6h-5zM91 401h6v6h-6zM324 401h6v6h-6zM169 407h5v5h-5zM63 412h6v5h-6zM86 412h5v5h-5zM124 412h6v5h-6zM313 412h6v5h-6zM113 417h11v6h-11zM147 417h5v6h-5zM241 417h6v6h-6zM308 417h5v6h-5zM136 423h5v5h-5zM280 428h5v5h-5zM113 433h6v6h-6zM208 433h5v6h-5zM241 433h6v6h-6zM291 433h6v6h-6zM335 433h6v6h-6zM224 439h6v5h-6zM302 439h6v5h-6zM63 444h6v5h-6zM141 444h6v5h-6zM224 444h6v5h-6zM374 444h6v5h-6zM130 449h6v6h-6zM102 455h6v5h-6zM213 455h6v5h-6zM124 460h6v5h-6zM335 460h6v5h-6zM80 465h6v6h-6zM230 471h5v5h-5zM108 476h5v5h-5zM130 476h6v5h-6zM269 476h5v5h-5zM347 476h5v5h-5zM369 476h5v5h-5zM180 481h5v6h-5zM158 487h5v5h-5zM180 487h5v5h-5zM241 487h6v5h-6zM285 492h6v5h-6zM124 497h6v6h-6zM185 497h6v6h-6zM285 497h6v6h-6zM169 503h5v5h-5zM241 503h6v5h-6zM308 503h5v5h-5zM363 503h6v5h-6zM308 508h5v5h-5zM385 508h6v5h-6zM63 513h6v6h-6zM86 513h5v6h-5zM119 519h5v5h-5zM280 519h5v5h-5zM147 524h5v5h-5zM241 524h6v5h-6zM324 524h6v5h-6zM396 524h2v5h-2zM102 535h6v5h-6zM247 535h5v5h-5zM269 535h5v5h-5zM352 535h6v5h-6zM141 540h6v5h-6zM169 540h5v5h-5zM274 540h6v5h-6zM341 540h6v5h-6zM235 545h6v1h-6zM274 545h6v1h-6zM335 545h6v1h-6z"/><path fill="rgb(133,133,133)" d="M119 13h5v5h-5zM274 13h6v5h-6zM213 18h6v5h-6zM297 18h5v5h-5zM280 23h5v6h-5zM374 23h6v6h-6zM396 23h2v6h-2zM235 29h6v5h-6zM330 34h5v5h-5zM169 39h5v6h-5zM269 39h5v6h-5zM297 39h5v6h-5zM313 39h6v6h-6zM163 45h6v5h-6zM285 45h12v5h-12zM391 45h5v5h-5zM174 50h6v5h-6zM308 50h5v5h-5zM147 55h5v6h-5zM158 55h5v6h-5zM230 55h11v6h-11zM280 55h5v6h-5zM202 61h6v5h-6zM258 66h5v5h-5zM97 71h5v6h-5zM330 71h5v6h-5zM363 71h6v6h-6zM158 77h5v5h-5zM224 77h6v5h-6zM369 77h5v5h-5zM213 82h6v5h-6zM230 87h5v6h-5zM274 87h6v6h-6zM58 93h5v5h-5zM213 93h6v5h-6zM280 93h5v5h-5zM202 103h6v6h-6zM347 103h5v6h-5zM247 109h5v5h-5zM91 114h6v5h-6zM235 114h6v5h-6zM347 114h5v5h-5zM369 114h5v5h-5zM69 119h5v6h-5zM97 119h5v6h-5zM108 119h5v6h-5zM119 119h5v6h-5zM241 119h6v6h-6zM252 119h6v6h-6zM263 119h6v6h-6zM341 119h6v6h-6zM191 125h6v5h-6zM213 125h11v5h-11zM291 130h6v5h-6zM341 130h6v5h-6zM63 135h6v6h-6zM119 135h5v6h-5zM169 135h5v6h-5zM280 135h5v6h-5zM124 141h6v5h-6zM235 141h6v5h-6zM119 146h5v5h-5zM136 146h5v5h-5zM169 146h5v5h-5zM241 146h6v5h-6zM291 146h6v5h-6zM86 151h5v6h-5zM102 151h6v6h-6zM124 151h6v6h-6zM208 151h5v6h-5zM80 157h6v5h-6zM224 157h6v5h-6zM130 162h6v5h-6zM124 173h6v5h-6zM324 173h6v5h-6zM269 178h5v5h-5zM86 183h5v6h-5zM108 183h5v6h-5zM169 183h5v6h-5zM191 183h6v6h-6zM224 183h6v6h-6zM308 183h11v6h-11zM136 189h5v5h-5zM247 189h5v5h-5zM330 189h5v5h-5zM158 194h5v5h-5zM113 199h6v5h-6zM258 199h5v5h-5zM363 204h6v6h-6zM252 210h6v5h-6zM263 210h6v5h-6zM202 215h6v5h-6zM219 215h5v5h-5zM252 215h6v5h-6zM263 215h6v5h-6zM324 215h6v5h-6zM396 215h2v5h-2zM174 220h6v6h-6zM258 220h5v6h-5zM252 226h6v5h-6zM291 226h6v5h-6zM341 226h6v5h-6zM380 226h5v5h-5zM235 236h12v6h-12zM319 236h5v6h-5zM341 236h6v6h-6zM358 236h5v6h-5zM369 236h5v6h-5zM213 242h6v5h-6zM291 242h6v5h-6zM308 242h5v5h-5zM363 247h6v5h-6zM335 252h6v6h-6zM369 252h5v6h-5zM108 258h5v5h-5zM191 258h6v5h-6zM74 263h12v5h-12zM147 263h5v5h-5zM363 263h6v5h-6zM119 268h5v6h-5zM130 268h6v6h-6zM224 268h6v6h-6zM86 274h11v5h-11zM341 274h6v5h-6zM213 279h6v5h-6zM119 284h5v6h-5zM147 284h11v6h-11zM58 290h5v5h-5zM119 295h11v5h-11zM147 295h5v5h-5zM69 300h5v6h-5zM324 300h6v6h-6zM269 306h5v5h-5zM385 306h6v5h-6zM280 311h5v5h-5zM291 311h6v5h-6zM302 311h6v5h-6zM163 316h6v6h-6zM280 316h5v6h-5zM58 322h5v5h-5zM363 322h6v5h-6zM363 327h6v5h-6zM74 332h6v6h-6zM91 332h6v6h-6zM274 332h6v6h-6zM285 332h6v6h-6zM385 332h6v6h-6zM141 338h6v5h-6zM152 338h6v5h-6zM235 338h6v5h-6zM285 338h12v5h-12zM136 343h5v5h-5zM269 343h5v5h-5zM230 354h5v5h-5zM263 354h6v5h-6zM302 359h6v5h-6zM313 359h6v5h-6zM324 359h6v5h-6zM363 359h6v5h-6zM374 364h6v6h-6zM230 370h5v5h-5zM74 375h6v5h-6zM124 375h6v5h-6zM152 375h6v5h-6zM235 375h6v5h-6zM247 375h5v5h-5zM369 375h5v5h-5zM280 380h5v6h-5zM74 386h6v5h-6zM363 386h6v5h-6zM63 396h6v5h-6zM97 396h5v5h-5zM219 396h5v5h-5zM152 401h6v6h-6zM219 401h5v6h-5zM291 401h6v6h-6zM119 407h5v5h-5zM141 407h6v5h-6zM230 417h5v6h-5zM352 417h6v6h-6zM147 423h11v5h-11zM252 423h6v5h-6zM313 423h6v5h-6zM69 428h5v5h-5zM80 428h6v5h-6zM97 428h5v5h-5zM124 428h6v5h-6zM235 428h6v5h-6zM74 433h6v6h-6zM302 433h6v6h-6zM374 433h6v6h-6zM119 439h5v5h-5zM291 439h6v5h-6zM319 439h5v5h-5zM197 444h5v5h-5zM308 444h5v5h-5zM108 449h5v6h-5zM208 449h5v6h-5zM302 449h6v6h-6zM319 449h5v6h-5zM363 449h6v6h-6zM69 460h5v5h-5zM258 460h5v5h-5zM319 460h5v5h-5zM69 465h5v6h-5zM280 465h5v6h-5zM374 465h6v6h-6zM108 471h5v5h-5zM197 471h5v5h-5zM313 471h6v5h-6zM119 476h5v5h-5zM102 481h6v6h-6zM385 481h6v6h-6zM158 492h5v5h-5zM263 492h6v5h-6zM396 492h2v5h-2zM197 497h5v6h-5zM108 503h5v5h-5zM269 503h11v5h-11zM302 503h6v5h-6zM91 508h6v5h-6zM136 508h5v5h-5zM174 508h6v5h-6zM108 513h5v6h-5zM130 513h6v6h-6zM269 513h5v6h-5zM352 513h11v6h-11zM108 519h5v5h-5zM219 519h5v5h-5zM308 519h5v5h-5zM335 519h6v5h-6zM235 524h6v5h-6zM252 524h6v5h-6zM363 524h6v5h-6zM380 524h5v5h-5zM74 529h6v6h-6zM124 529h6v6h-6zM147 529h5v6h-5zM258 529h5v6h-5zM369 529h5v6h-5zM185 535h6v5h-6zM213 535h11v5h-11zM335 535h6v5h-6zM119 540h5v5h-5zM374 540h6v5h-6zM108 545h5v1h-5zM297 545h5v1h-5z"/><path fill="rgb(136,136,136)" d="M247 9h5v4h-5zM308 13h5v5h-5zM219 18h5v5h-5zM358 18h5v5h-5zM208 29h5v5h-5zM219 29h5v5h-5zM313 29h6v5h-6zM74 34h6v5h-6zM124 34h6v5h-6zM235 34h6v5h-6zM158 39h5v6h-5zM341 39h6v6h-6zM380 39h5v6h-5zM130 45h6v5h-6zM252 45h6v5h-6zM136 50h5v5h-5zM152 50h6v5h-6zM269 50h5v5h-5zM274 55h6v6h-6zM396 55h2v6h-2zM80 61h6v5h-6zM197 61h5v5h-5zM224 61h6v5h-6zM235 61h6v5h-6zM230 66h5v5h-5zM358 66h5v5h-5zM280 71h5v6h-5zM291 77h6v5h-6zM291 82h6v5h-6zM380 82h5v5h-5zM163 87h6v6h-6zM191 87h6v6h-6zM247 93h5v5h-5zM324 93h6v5h-6zM91 98h6v5h-6zM108 98h5v5h-5zM141 98h6v5h-6zM185 98h6v5h-6zM124 103h6v6h-6zM291 103h6v6h-6zM185 109h6v5h-6zM263 109h6v5h-6zM291 109h6v5h-6zM396 109h2v5h-2zM158 114h5v5h-5zM185 114h6v5h-6zM247 114h5v5h-5zM396 114h2v5h-2zM147 119h5v6h-5zM213 119h6v6h-6zM391 119h5v6h-5zM385 125h11v5h-11zM241 130h6v5h-6zM130 135h6v6h-6zM230 141h5v5h-5zM285 141h6v5h-6zM97 146h5v5h-5zM124 146h6v5h-6zM252 146h6v5h-6zM263 146h6v5h-6zM274 146h6v5h-6zM319 157h5v5h-5zM80 162h6v5h-6zM191 162h6v5h-6zM213 162h6v5h-6zM252 162h6v5h-6zM91 167h6v6h-6zM119 167h5v6h-5zM258 167h5v6h-5zM108 178h5v5h-5zM163 178h6v5h-6zM180 178h5v5h-5zM174 183h6v6h-6zM363 183h6v6h-6zM380 183h5v6h-5zM169 189h5v5h-5zM347 189h5v5h-5zM152 194h6v5h-6zM269 194h5v5h-5zM380 194h5v5h-5zM86 199h5v5h-5zM119 199h5v5h-5zM152 199h6v5h-6zM58 204h5v6h-5zM185 204h6v6h-6zM324 204h6v6h-6zM335 204h6v6h-6zM141 210h6v5h-6zM152 210h6v5h-6zM191 210h6v5h-6zM58 220h5v6h-5zM97 220h5v6h-5zM330 220h5v6h-5zM380 220h5v6h-5zM396 220h2v6h-2zM330 231h5v5h-5zM341 231h6v5h-6zM219 236h5v6h-5zM385 236h6v6h-6zM80 242h6v5h-6zM191 242h6v5h-6zM319 242h5v5h-5zM208 247h5v5h-5zM341 247h6v5h-6zM230 252h5v6h-5zM380 252h5v6h-5zM347 258h5v5h-5zM141 263h6v5h-6zM202 263h6v5h-6zM297 263h5v5h-5zM91 268h6v6h-6zM219 268h5v6h-5zM102 274h6v5h-6zM274 279h11v5h-11zM69 284h5v6h-5zM74 290h6v5h-6zM91 290h6v5h-6zM302 290h6v5h-6zM163 295h6v5h-6zM191 295h6v5h-6zM374 295h6v5h-6zM191 300h17v6h-17zM297 300h5v6h-5zM252 306h6v5h-6zM141 311h6v5h-6zM297 311h5v5h-5zM169 322h5v5h-5zM86 327h5v5h-5zM147 327h5v5h-5zM396 327h2v5h-2zM80 332h6v6h-6zM241 332h6v6h-6zM391 332h5v6h-5zM274 343h6v5h-6zM108 348h5v6h-5zM197 348h5v6h-5zM280 348h5v6h-5zM291 348h6v6h-6zM235 354h6v5h-6zM252 354h6v5h-6zM341 354h6v5h-6zM113 359h6v5h-6zM163 359h6v5h-6zM358 359h5v5h-5zM136 364h5v6h-5zM302 364h6v6h-6zM380 364h5v6h-5zM163 370h6v5h-6zM136 375h5v5h-5zM230 386h5v5h-5zM285 391h6v5h-6zM113 396h6v5h-6zM224 396h6v5h-6zM302 396h6v5h-6zM347 396h5v5h-5zM224 401h6v6h-6zM363 401h6v6h-6zM224 407h6v5h-6zM291 412h6v5h-6zM319 412h5v5h-5zM69 417h5v6h-5zM152 417h11v6h-11zM169 417h5v6h-5zM213 423h6v5h-6zM324 423h6v5h-6zM380 423h11v5h-11zM58 428h5v5h-5zM241 439h6v5h-6zM391 439h5v5h-5zM147 444h5v5h-5zM80 455h11v5h-11zM258 455h5v5h-5zM391 455h5v5h-5zM97 460h5v5h-5zM113 460h6v5h-6zM213 460h6v5h-6zM241 460h6v5h-6zM341 460h6v5h-6zM341 471h6v5h-6zM319 476h5v5h-5zM341 476h6v5h-6zM374 476h6v5h-6zM247 481h5v6h-5zM69 492h5v5h-5zM180 492h5v5h-5zM63 497h11v6h-11zM102 497h6v6h-6zM74 503h6v5h-6zM185 503h6v5h-6zM330 503h5v5h-5zM97 508h5v5h-5zM169 508h5v5h-5zM230 508h11v5h-11zM136 513h5v6h-5zM185 513h6v6h-6zM208 513h5v6h-5zM235 513h6v6h-6zM341 513h11v6h-11zM102 519h6v5h-6zM180 519h5v5h-5zM313 519h6v5h-6zM385 519h6v5h-6zM352 524h6v5h-6zM369 524h5v5h-5zM302 529h6v6h-6zM374 529h6v6h-6zM174 535h6v5h-6zM258 535h5v5h-5zM280 535h5v5h-5zM330 535h5v5h-5zM124 540h6v5h-6zM174 540h6v5h-6zM58 545h5v1h-5zM97 545h5v1h-5z"/><path fill="rgb(139,139,139)" d="M69 9h5v4h-5zM308 9h5v4h-5zM241 13h6v5h-6zM352 13h6v5h-6zM58 18h5v5h-5zM147 18h5v5h-5zM308 23h5v6h-5zM108 29h5v5h-5zM280 29h5v5h-5zM180 34h5v5h-5zM152 39h6v6h-6zM174 39h6v6h-6zM124 45h6v5h-6zM191 45h6v5h-6zM208 45h5v5h-5zM263 50h6v5h-6zM324 50h6v5h-6zM169 55h5v6h-5zM297 55h5v6h-5zM185 61h6v5h-6zM313 61h6v5h-6zM163 66h6v5h-6zM363 66h6v5h-6zM391 66h5v5h-5zM174 71h6v6h-6zM191 71h6v6h-6zM219 71h5v6h-5zM258 71h5v6h-5zM108 77h5v5h-5zM147 77h5v5h-5zM102 82h6v5h-6zM86 98h5v5h-5zM358 98h5v5h-5zM391 98h5v5h-5zM80 103h6v6h-6zM313 109h6v5h-6zM86 114h5v5h-5zM169 114h5v5h-5zM158 119h5v6h-5zM202 119h6v6h-6zM97 125h5v5h-5zM141 125h6v5h-6zM241 125h6v5h-6zM396 130h2v5h-2zM158 135h5v6h-5zM297 135h5v6h-5zM180 141h5v5h-5zM324 141h6v5h-6zM102 146h6v5h-6zM174 146h11v5h-11zM269 146h5v5h-5zM97 151h5v6h-5zM230 151h5v6h-5zM319 151h5v6h-5zM352 162h6v5h-6zM213 167h6v6h-6zM369 167h5v6h-5zM396 167h2v6h-2zM147 173h5v5h-5zM224 173h11v5h-11zM313 173h11v5h-11zM102 183h6v6h-6zM230 183h5v6h-5zM358 183h5v6h-5zM86 189h5v5h-5zM113 189h6v5h-6zM174 189h6v5h-6zM385 189h6v5h-6zM69 194h5v5h-5zM124 199h6v5h-6zM213 199h6v5h-6zM263 199h6v5h-6zM347 199h5v5h-5zM102 204h6v6h-6zM141 204h6v6h-6zM247 204h5v6h-5zM102 210h6v5h-6zM197 210h5v5h-5zM319 215h5v5h-5zM230 226h5v5h-5zM69 231h5v5h-5zM247 236h5v6h-5zM241 247h6v5h-6zM335 247h6v5h-6zM330 268h5v6h-5zM341 268h11v6h-11zM374 274h6v5h-6zM119 279h5v5h-5zM335 279h6v5h-6zM141 284h6v6h-6zM191 284h6v6h-6zM291 290h6v5h-6zM352 290h6v5h-6zM69 295h5v5h-5zM108 295h5v5h-5zM174 295h6v5h-6zM124 300h6v6h-6zM352 306h6v5h-6zM213 322h6v5h-6zM174 327h6v5h-6zM202 327h6v5h-6zM319 327h5v5h-5zM241 338h6v5h-6zM358 343h5v5h-5zM380 343h5v5h-5zM91 348h6v6h-6zM308 348h5v6h-5zM385 348h6v6h-6zM91 354h6v5h-6zM58 359h5v5h-5zM141 364h6v6h-6zM374 370h6v5h-6zM358 375h5v5h-5zM380 375h5v5h-5zM380 391h5v5h-5zM213 396h6v5h-6zM358 396h5v5h-5zM80 401h6v6h-6zM230 401h5v6h-5zM358 401h5v6h-5zM136 407h5v5h-5zM324 412h6v5h-6zM385 412h6v5h-6zM58 417h5v6h-5zM335 417h6v6h-6zM374 417h6v6h-6zM230 423h5v5h-5zM330 428h5v5h-5zM219 433h5v6h-5zM352 433h6v6h-6zM363 433h6v6h-6zM158 444h5v5h-5zM191 444h6v5h-6zM391 444h5v5h-5zM58 449h11v6h-11zM185 449h6v6h-6zM313 449h6v6h-6zM274 455h6v5h-6zM302 460h6v5h-6zM91 465h6v6h-6zM263 465h6v6h-6zM263 471h6v5h-6zM291 471h6v5h-6zM247 476h5v5h-5zM97 481h5v6h-5zM158 481h5v6h-5zM391 481h5v6h-5zM174 487h6v5h-6zM247 487h5v5h-5zM319 487h5v5h-5zM119 492h5v5h-5zM219 492h5v5h-5zM113 497h6v6h-6zM136 497h5v6h-5zM324 497h6v6h-6zM374 497h6v6h-6zM136 503h5v5h-5zM258 503h5v5h-5zM130 508h6v5h-6zM369 508h5v5h-5zM141 513h6v6h-6zM263 519h6v5h-6zM119 524h5v5h-5zM169 524h5v5h-5zM258 524h5v5h-5zM274 524h6v5h-6zM308 524h5v5h-5zM97 529h5v6h-5zM130 529h6v6h-6zM69 540h5v5h-5zM347 545h5v1h-5z"/><path fill="rgb(142,142,142)" d="M152 9h6v4h-6zM324 13h6v5h-6zM347 18h5v5h-5zM241 23h6v6h-6zM130 29h6v5h-6zM224 29h6v5h-6zM258 29h5v5h-5zM335 29h6v5h-6zM369 29h5v5h-5zM108 34h5v5h-5zM202 34h6v5h-6zM141 39h6v6h-6zM191 39h6v6h-6zM330 39h5v6h-5zM102 50h6v5h-6zM141 50h6v5h-6zM291 50h6v5h-6zM319 50h5v5h-5zM97 55h5v6h-5zM374 55h6v6h-6zM136 61h5v5h-5zM174 61h6v5h-6zM63 66h6v5h-6zM69 71h5v6h-5zM191 77h6v5h-6zM230 77h5v5h-5zM124 98h6v5h-6zM108 103h5v6h-5zM197 103h5v6h-5zM319 103h5v6h-5zM363 103h6v6h-6zM235 109h6v5h-6zM202 114h6v5h-6zM86 119h5v6h-5zM63 125h6v5h-6zM335 125h6v5h-6zM91 130h6v5h-6zM97 135h5v6h-5zM335 141h6v5h-6zM91 151h6v6h-6zM269 151h5v6h-5zM258 162h5v5h-5zM330 162h5v5h-5zM185 167h6v6h-6zM385 167h6v6h-6zM163 173h6v5h-6zM197 173h5v5h-5zM391 173h5v5h-5zM113 178h6v5h-6zM208 178h5v5h-5zM363 178h6v5h-6zM80 183h6v6h-6zM158 183h5v6h-5zM269 189h5v5h-5zM102 194h6v5h-6zM202 194h6v5h-6zM252 194h6v5h-6zM91 199h6v5h-6zM313 199h6v5h-6zM380 199h5v5h-5zM341 204h6v6h-6zM80 210h6v5h-6zM230 210h5v5h-5zM374 210h6v5h-6zM130 215h6v5h-6zM358 215h5v5h-5zM313 220h6v6h-6zM224 226h6v5h-6zM308 226h5v5h-5zM208 231h5v5h-5zM247 242h5v5h-5zM369 242h5v5h-5zM124 247h6v5h-6zM352 252h6v6h-6zM158 258h5v5h-5zM241 258h6v5h-6zM280 258h11v5h-11zM235 263h6v5h-6zM108 268h5v6h-5zM263 274h6v5h-6zM230 279h5v5h-5zM374 279h6v5h-6zM263 284h6v6h-6zM302 284h6v6h-6zM86 290h5v5h-5zM308 290h5v5h-5zM319 290h5v5h-5zM396 290h2v5h-2zM258 295h5v5h-5zM297 295h5v5h-5zM158 300h5v6h-5zM358 300h5v6h-5zM74 306h6v5h-6zM124 306h6v5h-6zM113 311h6v5h-6zM91 316h6v6h-6zM263 316h6v6h-6zM352 316h6v6h-6zM247 327h5v5h-5zM258 327h5v5h-5zM152 332h6v6h-6zM169 332h5v6h-5zM91 343h6v5h-6zM358 348h5v6h-5zM247 359h5v5h-5zM263 359h6v5h-6zM335 364h6v6h-6zM158 380h5v6h-5zM358 380h11v6h-11zM396 380h2v6h-2zM180 391h5v5h-5zM280 396h5v5h-5zM380 396h5v5h-5zM274 401h6v6h-6zM335 401h6v6h-6zM208 407h5v5h-5zM252 407h6v5h-6zM330 412h5v5h-5zM219 417h5v6h-5zM74 423h6v5h-6zM208 428h5v5h-5zM285 428h6v5h-6zM358 428h5v5h-5zM97 433h5v6h-5zM197 433h11v6h-11zM113 444h6v5h-6zM130 444h6v5h-6zM241 444h6v5h-6zM363 444h11v5h-11zM197 455h5v5h-5zM358 455h5v5h-5zM102 460h6v5h-6zM347 460h11v5h-11zM213 465h6v6h-6zM102 471h6v5h-6zM374 471h6v5h-6zM91 476h6v5h-6zM285 476h6v5h-6zM213 481h6v6h-6zM285 481h6v6h-6zM302 492h6v5h-6zM335 497h6v6h-6zM180 503h5v5h-5zM263 503h6v5h-6zM324 503h6v5h-6zM385 503h6v5h-6zM191 508h6v5h-6zM252 508h6v5h-6zM302 508h6v5h-6zM374 508h6v5h-6zM169 519h5v5h-5zM197 519h5v5h-5zM224 519h6v5h-6zM202 524h17v5h-17zM341 524h11v5h-11zM86 529h5v6h-5zM224 535h6v5h-6zM308 535h5v5h-5zM197 545h5v1h-5zM330 545h5v1h-5z"/><path fill="rgb(145,145,145)" d="M102 9h6v4h-6zM391 13h5v5h-5zM208 18h5v5h-5zM374 18h6v5h-6zM169 23h5v6h-5zM213 23h6v6h-6zM230 23h5v6h-5zM297 23h5v6h-5zM302 29h6v5h-6zM358 29h5v5h-5zM374 34h6v5h-6zM252 39h6v6h-6zM263 39h6v6h-6zM369 39h5v6h-5zM141 45h6v5h-6zM241 45h6v5h-6zM363 50h6v5h-6zM391 55h5v6h-5zM174 66h6v5h-6zM58 71h5v6h-5zM358 71h5v6h-5zM391 71h5v6h-5zM163 77h6v5h-6zM208 82h5v5h-5zM302 82h6v5h-6zM358 87h5v6h-5zM80 93h6v5h-6zM152 93h6v5h-6zM369 93h5v5h-5zM319 98h5v5h-5zM97 109h5v5h-5zM313 114h6v5h-6zM374 114h6v5h-6zM91 119h6v6h-6zM313 119h6v6h-6zM202 125h6v5h-6zM269 125h5v5h-5zM108 130h5v5h-5zM352 130h6v5h-6zM185 135h6v6h-6zM274 135h6v6h-6zM58 141h5v5h-5zM136 141h5v5h-5zM80 146h6v5h-6zM335 146h6v5h-6zM241 157h6v5h-6zM180 162h5v5h-5zM197 162h5v5h-5zM136 167h5v6h-5zM319 167h5v6h-5zM247 173h5v5h-5zM308 173h5v5h-5zM358 173h5v5h-5zM219 178h5v5h-5zM308 178h5v5h-5zM347 183h5v6h-5zM363 189h6v5h-6zM358 199h5v5h-5zM191 204h6v6h-6zM130 210h6v5h-6zM180 215h5v5h-5zM224 215h11v5h-11zM302 215h6v5h-6zM391 215h5v5h-5zM335 236h6v6h-6zM74 242h6v5h-6zM108 247h5v5h-5zM58 252h5v6h-5zM124 252h6v6h-6zM58 268h5v6h-5zM74 268h6v6h-6zM202 274h6v5h-6zM224 279h6v5h-6zM308 279h5v5h-5zM324 279h6v5h-6zM319 284h5v6h-5zM136 290h5v5h-5zM358 290h5v5h-5zM97 295h5v5h-5zM91 300h6v6h-6zM130 300h6v6h-6zM308 300h5v6h-5zM380 311h5v5h-5zM252 322h6v5h-6zM380 327h5v5h-5zM347 332h5v6h-5zM352 338h6v5h-6zM374 338h6v5h-6zM69 348h5v6h-5zM230 359h5v5h-5zM224 364h6v6h-6zM191 370h6v5h-6zM91 375h6v5h-6zM313 375h6v5h-6zM130 380h6v6h-6zM341 380h6v6h-6zM385 380h6v6h-6zM213 391h6v5h-6zM302 401h6v6h-6zM341 401h6v6h-6zM313 407h6v5h-6zM91 417h6v6h-6zM391 423h5v5h-5zM224 428h6v5h-6zM69 433h5v6h-5zM136 439h5v5h-5zM380 444h5v5h-5zM235 449h6v6h-6zM113 455h6v5h-6zM252 455h6v5h-6zM163 460h6v5h-6zM130 465h6v6h-6zM252 471h6v5h-6zM324 471h6v5h-6zM80 476h6v5h-6zM352 476h6v5h-6zM174 481h6v6h-6zM113 487h6v5h-6zM280 487h5v5h-5zM247 492h5v5h-5zM274 492h6v5h-6zM358 492h5v5h-5zM224 513h6v6h-6zM280 529h5v6h-5zM396 535h2v5h-2zM158 540h5v5h-5zM285 545h6v1h-6z"/><path fill="rgb(148,148,148)" d="M97 9h5v4h-5zM369 9h5v4h-5zM358 13h5v5h-5zM374 13h6v5h-6zM352 18h6v5h-6zM136 23h5v6h-5zM291 23h6v6h-6zM58 29h5v5h-5zM130 34h6v5h-6zM302 39h6v6h-6zM158 45h5v5h-5zM158 50h5v5h-5zM124 55h6v6h-6zM208 55h5v6h-5zM91 61h6v5h-6zM363 61h6v5h-6zM80 66h6v5h-6zM213 66h6v5h-6zM274 66h6v5h-6zM341 66h6v5h-6zM380 71h5v6h-5zM252 82h6v5h-6zM297 82h5v5h-5zM180 87h5v6h-5zM319 87h5v6h-5zM347 93h5v5h-5zM363 93h6v5h-6zM269 98h5v5h-5zM180 103h5v6h-5zM302 103h6v6h-6zM91 125h6v5h-6zM113 125h6v5h-6zM274 125h6v5h-6zM330 135h5v6h-5zM385 135h6v6h-6zM97 141h5v5h-5zM258 141h5v5h-5zM113 146h6v5h-6zM385 157h6v5h-6zM324 162h6v5h-6zM80 167h6v6h-6zM113 167h6v6h-6zM363 167h6v6h-6zM102 173h6v5h-6zM285 173h6v5h-6zM258 178h5v5h-5zM280 178h5v5h-5zM313 178h6v5h-6zM335 189h6v5h-6zM308 194h5v5h-5zM163 220h6v6h-6zM235 220h6v6h-6zM80 226h6v5h-6zM169 226h5v5h-5zM63 231h6v5h-6zM124 236h6v6h-6zM313 236h6v6h-6zM113 242h6v5h-6zM152 242h6v5h-6zM74 247h6v5h-6zM235 252h6v6h-6zM363 252h6v6h-6zM74 258h6v5h-6zM174 258h6v5h-6zM208 258h5v5h-5zM274 258h6v5h-6zM358 258h5v5h-5zM197 263h5v5h-5zM86 268h5v6h-5zM269 268h5v6h-5zM352 268h6v6h-6zM235 274h6v5h-6zM97 279h5v5h-5zM319 279h5v5h-5zM380 279h5v5h-5zM119 290h5v5h-5zM191 290h6v5h-6zM263 295h6v5h-6zM169 316h11v6h-11zM174 322h6v5h-6zM202 322h6v5h-6zM247 322h5v5h-5zM208 338h5v5h-5zM324 354h6v5h-6zM152 364h6v6h-6zM197 364h5v6h-5zM230 364h5v6h-5zM152 370h6v5h-6zM169 375h5v5h-5zM335 375h6v5h-6zM297 380h11v6h-11zM86 391h5v5h-5zM363 396h6v5h-6zM252 401h6v6h-6zM352 407h6v5h-6zM396 407h2v5h-2zM219 412h5v5h-5zM263 417h6v6h-6zM252 433h6v6h-6zM396 433h2v6h-2zM91 439h6v5h-6zM69 444h5v5h-5zM74 449h6v6h-6zM97 449h5v6h-5zM74 455h6v5h-6zM347 455h5v5h-5zM191 460h11v5h-11zM330 460h5v5h-5zM141 465h6v6h-6zM269 465h5v6h-5zM58 471h5v5h-5zM97 471h5v5h-5zM163 471h6v5h-6zM141 481h6v6h-6zM163 481h6v6h-6zM74 487h6v5h-6zM324 492h6v5h-6zM74 513h6v6h-6zM341 529h6v6h-6zM74 535h6v5h-6zM191 535h6v5h-6zM86 540h5v5h-5zM219 540h5v5h-5z"/><path fill="rgb(151,151,151)" d="M269 9h5v4h-5zM297 9h5v4h-5zM130 13h6v5h-6zM269 18h5v5h-5zM174 29h6v5h-6zM230 29h5v5h-5zM330 29h5v5h-5zM363 29h6v5h-6zM396 29h2v5h-2zM86 34h5v5h-5zM147 39h5v6h-5zM163 39h6v6h-6zM224 45h6v5h-6zM235 45h6v5h-6zM86 50h11v5h-11zM347 50h5v5h-5zM119 61h5v5h-5zM358 61h5v5h-5zM302 66h6v5h-6zM152 87h6v6h-6zM274 109h6v5h-6zM302 114h6v5h-6zM285 125h6v5h-6zM330 130h5v5h-5zM152 141h6v5h-6zM185 141h6v5h-6zM108 146h5v5h-5zM197 146h5v5h-5zM141 151h6v6h-6zM197 151h5v6h-5zM235 151h6v6h-6zM324 151h6v6h-6zM152 157h6v5h-6zM235 157h6v5h-6zM252 157h6v5h-6zM58 162h5v5h-5zM202 162h6v5h-6zM97 167h5v6h-5zM69 173h5v5h-5zM58 178h5v5h-5zM374 178h6v5h-6zM341 183h6v6h-6zM91 189h6v5h-6zM163 194h6v5h-6zM347 204h5v6h-5zM358 204h5v6h-5zM191 215h6v5h-6zM241 215h6v5h-6zM197 220h5v6h-5zM297 226h5v5h-5zM285 231h6v5h-6zM63 236h6v6h-6zM391 236h5v6h-5zM347 242h5v5h-5zM302 252h6v6h-6zM97 258h5v5h-5zM141 268h6v6h-6zM102 279h6v5h-6zM124 279h6v5h-6zM235 279h6v5h-6zM213 284h6v6h-6zM324 284h6v6h-6zM258 290h5v5h-5zM280 290h5v5h-5zM219 300h11v6h-11zM396 300h2v6h-2zM97 306h5v5h-5zM169 311h5v5h-5zM191 311h6v5h-6zM202 311h6v5h-6zM97 316h5v6h-5zM285 316h6v6h-6zM313 316h6v6h-6zM308 322h5v5h-5zM141 327h6v5h-6zM324 332h6v6h-6zM352 332h6v6h-6zM374 332h6v6h-6zM374 348h6v6h-6zM185 354h6v5h-6zM191 359h6v5h-6zM130 364h6v6h-6zM291 364h6v6h-6zM113 370h6v5h-6zM313 370h6v5h-6zM241 375h6v5h-6zM324 375h6v5h-6zM247 380h5v6h-5zM308 380h5v6h-5zM163 391h6v5h-6zM108 396h5v5h-5zM241 396h6v5h-6zM263 396h6v5h-6zM285 401h6v6h-6zM297 401h5v6h-5zM91 407h6v5h-6zM247 412h5v5h-5zM302 417h6v6h-6zM330 417h5v6h-5zM58 423h5v5h-5zM252 428h6v5h-6zM347 428h5v5h-5zM352 444h6v5h-6zM297 449h5v6h-5zM324 455h6v5h-6zM80 460h6v5h-6zM158 460h5v5h-5zM252 460h6v5h-6zM102 465h6v6h-6zM191 465h6v6h-6zM202 465h6v6h-6zM208 471h5v5h-5zM385 471h6v5h-6zM91 497h6v6h-6zM169 497h5v6h-5zM285 503h6v5h-6zM152 508h6v5h-6zM102 513h6v6h-6zM252 519h6v5h-6zM219 524h5v5h-5zM247 524h5v5h-5zM197 529h5v6h-5zM319 529h5v6h-5zM169 545h5v1h-5zM291 545h6v1h-6zM308 545h5v1h-5z"/><path fill="rgb(154,154,154)" d="M291 13h6v5h-6zM180 23h5v6h-5zM224 23h6v6h-6zM313 23h6v6h-6zM313 34h6v5h-6zM380 34h5v5h-5zM269 45h5v5h-5zM58 50h5v5h-5zM291 55h6v6h-6zM252 61h6v5h-6zM80 71h6v6h-6zM391 82h5v5h-5zM308 87h5v6h-5zM58 98h5v5h-5zM152 98h6v5h-6zM396 98h2v5h-2zM113 103h6v6h-6zM269 109h5v5h-5zM308 114h5v5h-5zM130 125h6v5h-6zM302 125h6v5h-6zM380 125h5v5h-5zM180 130h5v5h-5zM58 135h5v6h-5zM247 135h5v6h-5zM91 141h6v5h-6zM130 141h6v5h-6zM297 151h5v6h-5zM380 151h5v6h-5zM141 167h6v6h-6zM313 167h6v6h-6zM91 173h6v5h-6zM130 178h6v5h-6zM69 183h5v6h-5zM119 183h5v6h-5zM80 189h6v5h-6zM163 189h6v5h-6zM302 189h6v5h-6zM147 194h5v5h-5zM141 199h6v5h-6zM235 199h6v5h-6zM252 199h6v5h-6zM69 204h5v6h-5zM63 210h6v5h-6zM180 210h5v5h-5zM380 210h5v5h-5zM224 220h6v6h-6zM119 226h5v5h-5zM191 226h6v5h-6zM219 226h5v5h-5zM302 226h6v5h-6zM258 231h5v5h-5zM224 242h6v5h-6zM385 247h6v5h-6zM108 252h5v6h-5zM369 258h5v5h-5zM269 263h5v5h-5zM280 268h5v6h-5zM291 284h6v6h-6zM136 295h5v5h-5zM208 295h5v5h-5zM358 295h5v5h-5zM335 306h6v5h-6zM241 322h6v5h-6zM274 338h6v5h-6zM319 348h5v6h-5zM335 348h6v6h-6zM74 364h6v6h-6zM258 364h5v6h-5zM313 364h6v6h-6zM108 370h5v5h-5zM58 380h11v6h-11zM74 391h6v5h-6zM69 396h5v5h-5zM291 396h6v5h-6zM385 396h6v5h-6zM102 401h6v6h-6zM235 401h6v6h-6zM147 407h5v5h-5zM174 407h6v5h-6zM380 412h5v5h-5zM341 417h6v6h-6zM97 423h5v5h-5zM197 428h5v5h-5zM291 428h6v5h-6zM158 439h5v5h-5zM213 439h6v5h-6zM230 439h5v5h-5zM308 439h5v5h-5zM330 439h5v5h-5zM347 439h5v5h-5zM86 444h5v5h-5zM141 449h6v6h-6zM158 449h5v6h-5zM69 455h5v5h-5zM174 460h6v5h-6zM297 460h5v5h-5zM358 460h5v5h-5zM147 476h5v5h-5zM102 487h6v5h-6zM119 487h5v5h-5zM330 487h5v5h-5zM208 492h5v5h-5zM258 492h5v5h-5zM374 492h6v5h-6zM385 492h6v5h-6zM147 497h5v6h-5zM241 497h6v6h-6zM97 503h5v5h-5zM263 513h6v6h-6zM63 519h6v5h-6zM58 524h5v5h-5zM291 524h6v5h-6zM313 524h6v5h-6zM208 529h5v6h-5zM247 529h5v6h-5zM313 529h6v6h-6zM347 535h5v5h-5zM185 540h6v5h-6zM147 545h5v1h-5zM319 545h5v1h-5z"/><path fill="rgb(157,157,157)" d="M86 9h5v4h-5zM285 9h6v4h-6zM330 9h5v4h-5zM113 13h6v5h-6zM219 13h5v5h-5zM163 18h6v5h-6zM380 18h5v5h-5zM358 34h11v5h-11zM136 39h5v6h-5zM108 45h5v5h-5zM163 61h6v5h-6zM380 61h11v5h-11zM102 93h11v5h-11zM274 93h6v5h-6zM313 98h6v5h-6zM91 103h6v6h-6zM224 103h6v6h-6zM380 103h5v6h-5zM335 114h6v5h-6zM385 114h6v5h-6zM308 125h5v5h-5zM330 125h5v5h-5zM97 130h5v5h-5zM219 135h5v6h-5zM302 135h6v6h-6zM141 141h6v5h-6zM219 151h5v6h-5zM285 167h6v6h-6zM136 173h5v5h-5zM258 173h5v5h-5zM319 183h5v6h-5zM197 189h5v5h-5zM185 194h6v5h-6zM297 204h5v6h-5zM269 210h5v5h-5zM347 210h5v5h-5zM369 210h5v5h-5zM58 215h5v5h-5zM74 215h6v5h-6zM74 220h6v6h-6zM363 220h6v6h-6zM113 226h6v5h-6zM385 231h6v5h-6zM152 236h6v6h-6zM252 236h6v6h-6zM285 236h6v6h-6zM352 236h6v6h-6zM335 242h6v5h-6zM385 242h6v5h-6zM208 252h5v6h-5zM308 274h5v5h-5zM358 274h5v5h-5zM80 279h6v5h-6zM163 284h6v6h-6zM347 295h5v5h-5zM147 300h5v6h-5zM252 300h6v6h-6zM202 306h6v5h-6zM74 316h6v6h-6zM102 316h6v6h-6zM213 316h6v6h-6zM252 316h6v6h-6zM163 332h6v6h-6zM235 332h6v6h-6zM202 338h6v5h-6zM147 343h5v5h-5zM202 348h6v6h-6zM230 348h5v6h-5zM108 354h5v5h-5zM352 354h6v5h-6zM263 375h6v5h-6zM69 380h5v6h-5zM191 386h6v5h-6zM219 386h5v5h-5zM358 386h5v5h-5zM391 391h5v5h-5zM69 401h5v6h-5zM169 401h5v6h-5zM308 401h5v6h-5zM97 407h5v5h-5zM274 407h6v5h-6zM108 417h5v6h-5zM374 423h6v5h-6zM74 439h6v5h-6zM130 439h6v5h-6zM380 439h5v5h-5zM347 444h5v5h-5zM380 455h5v5h-5zM152 471h6v5h-6zM380 471h5v5h-5zM396 471h2v5h-2zM308 476h11v5h-11zM241 535h6v5h-6z"/><path fill="rgb(160,160,160)" d="M180 13h5v5h-5zM247 23h5v6h-5zM197 29h5v5h-5zM258 34h5v5h-5zM363 39h6v6h-6zM380 45h5v5h-5zM185 55h6v6h-6zM202 71h6v6h-6zM352 71h6v6h-6zM274 82h6v5h-6zM324 82h6v5h-6zM396 82h2v5h-2zM74 93h6v5h-6zM102 103h6v6h-6zM285 103h6v6h-6zM396 103h2v6h-2zM380 109h5v5h-5zM191 119h6v6h-6zM113 141h6v5h-6zM136 157h5v5h-5zM119 162h5v5h-5zM285 162h6v5h-6zM241 167h6v6h-6zM130 173h6v5h-6zM335 173h6v5h-6zM335 194h6v5h-6zM185 210h6v5h-6zM258 215h5v5h-5zM130 226h6v5h-6zM180 231h5v5h-5zM113 236h6v6h-6zM252 242h6v5h-6zM285 242h6v5h-6zM230 247h5v5h-5zM247 247h5v5h-5zM374 258h6v5h-6zM63 263h6v5h-6zM313 263h6v5h-6zM147 274h5v5h-5zM241 274h6v5h-6zM319 274h5v5h-5zM63 279h6v5h-6zM263 279h6v5h-6zM363 279h6v5h-6zM63 284h6v6h-6zM213 290h6v5h-6zM302 295h6v5h-6zM74 300h6v6h-6zM352 300h6v6h-6zM247 316h5v6h-5zM258 316h5v6h-5zM391 327h5v5h-5zM74 343h6v5h-6zM208 343h5v5h-5zM235 343h6v5h-6zM252 343h6v5h-6zM235 348h6v6h-6zM58 354h5v5h-5zM97 359h5v5h-5zM202 359h6v5h-6zM224 359h6v5h-6zM147 364h5v6h-5zM180 370h5v5h-5zM285 370h6v5h-6zM330 370h5v5h-5zM80 375h6v5h-6zM280 375h5v5h-5zM280 391h5v5h-5zM74 396h6v5h-6zM308 396h5v5h-5zM141 401h6v6h-6zM174 401h6v6h-6zM97 417h5v6h-5zM130 428h6v5h-6zM191 433h6v6h-6zM69 439h5v5h-5zM197 439h5v5h-5zM152 444h6v5h-6zM185 444h6v5h-6zM258 444h5v5h-5zM191 449h6v6h-6zM352 449h6v6h-6zM97 465h5v6h-5zM363 492h6v5h-6zM363 497h6v6h-6zM63 503h6v5h-6zM313 508h6v5h-6zM230 524h5v5h-5zM319 524h5v5h-5zM363 545h6v1h-6z"/><path fill="rgb(163,163,163)" d="M63 9h6v4h-6zM141 13h6v5h-6zM141 18h6v5h-6zM319 23h5v6h-5zM285 29h6v5h-6zM141 55h6v6h-6zM396 71h2v6h-2zM124 82h6v5h-6zM185 82h6v5h-6zM258 93h5v5h-5zM197 109h11v5h-11zM113 114h6v5h-6zM352 119h6v6h-6zM319 146h5v5h-5zM396 146h2v5h-2zM119 157h5v5h-5zM147 157h5v5h-5zM274 157h6v5h-6zM113 162h6v5h-6zM341 162h6v5h-6zM169 173h5v5h-5zM347 173h5v5h-5zM230 178h5v5h-5zM308 189h5v5h-5zM324 189h6v5h-6zM174 199h6v5h-6zM374 204h6v6h-6zM213 210h6v5h-6zM352 210h6v5h-6zM174 215h6v5h-6zM291 215h6v5h-6zM308 215h5v5h-5zM247 220h5v6h-5zM291 220h6v6h-6zM358 220h5v6h-5zM319 226h5v5h-5zM119 231h5v5h-5zM280 236h5v6h-5zM374 236h6v6h-6zM280 242h5v5h-5zM252 247h6v5h-6zM297 252h5v6h-5zM102 258h6v5h-6zM330 258h5v5h-5zM208 263h5v5h-5zM302 268h6v6h-6zM74 274h6v5h-6zM269 279h5v5h-5zM313 279h6v5h-6zM274 284h6v6h-6zM224 295h6v5h-6zM258 311h5v5h-5zM63 322h6v5h-6zM280 343h5v5h-5zM363 343h6v5h-6zM63 348h6v6h-6zM180 348h5v6h-5zM202 354h6v5h-6zM308 359h5v5h-5zM235 370h6v5h-6zM113 375h6v5h-6zM147 380h5v6h-5zM269 380h5v6h-5zM97 401h5v6h-5zM208 401h5v6h-5zM202 407h6v5h-6zM213 417h6v6h-6zM197 423h5v5h-5zM352 423h6v5h-6zM352 428h6v5h-6zM163 433h6v6h-6zM86 439h5v5h-5zM152 439h6v5h-6zM369 449h5v6h-5zM208 455h5v5h-5zM152 460h6v5h-6zM385 460h6v5h-6zM241 471h6v5h-6zM74 476h6v5h-6zM297 476h5v5h-5zM380 497h5v6h-5zM124 503h6v5h-6zM297 513h5v6h-5zM69 524h5v5h-5zM108 529h5v6h-5zM235 529h6v6h-6zM263 545h6v1h-6zM396 545h2v1h-2z"/><path fill="rgb(166,166,166)" d="M330 13h5v5h-5zM158 29h5v5h-5zM308 66h5v5h-5zM291 71h6v6h-6zM285 87h6v6h-6zM235 93h6v5h-6zM324 135h6v6h-6zM330 141h5v5h-5zM219 157h5v5h-5zM124 167h6v6h-6zM358 167h5v6h-5zM108 194h5v5h-5zM191 194h6v5h-6zM352 194h6v5h-6zM297 210h5v5h-5zM263 220h6v6h-6zM363 231h6v5h-6zM163 236h6v6h-6zM374 268h6v6h-6zM391 274h5v5h-5zM335 284h6v6h-6zM380 284h5v6h-5zM130 295h6v5h-6zM169 295h5v5h-5zM369 327h5v5h-5zM86 332h5v6h-5zM280 354h5v5h-5zM147 359h5v5h-5zM141 370h6v5h-6zM174 370h6v5h-6zM197 370h5v5h-5zM219 370h5v5h-5zM280 412h5v5h-5zM291 417h6v6h-6zM385 417h6v6h-6zM169 423h5v5h-5zM285 433h6v6h-6zM369 439h5v5h-5zM385 455h6v5h-6zM119 460h5v5h-5zM152 487h6v5h-6zM252 487h6v5h-6zM352 487h6v5h-6zM174 497h6v6h-6zM258 497h5v6h-5zM391 519h5v5h-5zM180 529h5v6h-5zM291 535h6v5h-6zM352 540h6v5h-6zM130 545h6v1h-6z"/><path fill="rgb(169,169,169)" d="M208 9h5v4h-5zM263 18h6v5h-6zM369 18h5v5h-5zM391 18h5v5h-5zM136 34h5v5h-5zM191 34h6v5h-6zM97 39h5v6h-5zM213 55h6v6h-6zM324 71h6v6h-6zM347 82h5v5h-5zM174 98h6v5h-6zM324 98h6v5h-6zM341 103h6v6h-6zM91 109h6v5h-6zM136 109h5v5h-5zM252 109h6v5h-6zM363 109h6v5h-6zM180 173h5v5h-5zM252 173h6v5h-6zM285 178h6v5h-6zM274 183h6v6h-6zM280 189h5v5h-5zM335 215h6v5h-6zM347 220h5v6h-5zM258 236h5v6h-5zM102 242h6v5h-6zM97 263h5v5h-5zM213 274h6v5h-6zM302 279h6v5h-6zM258 284h5v6h-5zM58 295h5v5h-5zM219 295h5v5h-5zM174 300h6v6h-6zM313 300h6v6h-6zM302 306h6v5h-6zM130 327h6v5h-6zM213 327h6v5h-6zM263 327h6v5h-6zM213 332h6v6h-6zM130 348h6v6h-6zM208 348h5v6h-5zM391 359h5v5h-5zM291 375h6v5h-6zM219 380h5v6h-5zM374 396h6v5h-6zM347 407h5v5h-5zM252 417h6v6h-6zM297 428h5v5h-5zM302 497h6v6h-6zM152 503h6v5h-6zM91 519h6v5h-6zM136 535h5v5h-5zM258 540h5v5h-5zM285 540h6v5h-6z"/><path fill="rgb(172,172,172)" d="M174 18h6v5h-6zM91 34h6v5h-6zM263 34h6v5h-6zM202 39h6v6h-6zM302 50h6v5h-6zM136 55h5v6h-5zM319 61h5v5h-5zM280 66h5v5h-5zM352 66h6v5h-6zM208 71h5v6h-5zM158 93h5v5h-5zM185 119h6v6h-6zM330 119h5v6h-5zM224 130h6v5h-6zM191 135h6v6h-6zM308 167h5v6h-5zM324 167h6v6h-6zM374 167h6v6h-6zM136 194h5v5h-5zM297 199h5v5h-5zM224 204h6v6h-6zM63 215h6v5h-6zM91 220h6v6h-6zM263 226h6v5h-6zM113 247h6v5h-6zM213 263h6v5h-6zM224 263h6v5h-6zM230 274h5v5h-5zM235 284h6v6h-6zM385 284h6v6h-6zM230 300h5v6h-5zM108 327h5v5h-5zM374 343h6v5h-6zM136 354h5v5h-5zM324 391h6v5h-6zM374 412h6v5h-6zM119 423h5v5h-5zM202 428h6v5h-6zM380 428h5v5h-5zM391 433h5v6h-5zM74 444h6v5h-6zM163 449h6v6h-6zM391 449h5v6h-5zM174 455h6v5h-6zM136 460h5v5h-5zM169 460h5v5h-5zM385 487h6v5h-6zM58 492h5v5h-5zM163 497h6v6h-6zM263 497h6v6h-6zM385 529h6v6h-6zM97 535h5v5h-5z"/><path fill="rgb(175,175,175)" d="M163 13h6v5h-6zM352 45h6v5h-6zM352 50h6v5h-6zM335 55h6v6h-6zM86 82h5v5h-5zM163 109h6v5h-6zM169 125h5v5h-5zM308 130h5v5h-5zM258 157h5v5h-5zM324 157h6v5h-6zM396 157h2v5h-2zM291 162h6v5h-6zM241 178h6v5h-6zM263 183h6v6h-6zM330 194h5v5h-5zM369 204h5v6h-5zM235 210h6v5h-6zM274 247h6v5h-6zM369 247h5v5h-5zM247 252h5v6h-5zM247 263h5v5h-5zM396 268h2v6h-2zM152 300h6v6h-6zM263 300h6v6h-6zM185 327h6v5h-6zM263 348h6v6h-6zM285 354h6v5h-6zM119 370h5v5h-5zM219 375h5v5h-5zM147 386h5v5h-5zM291 386h6v5h-6zM308 386h5v5h-5zM136 396h5v5h-5zM247 396h5v5h-5zM180 407h5v5h-5zM197 417h5v6h-5zM319 417h5v6h-5zM63 460h6v5h-6zM380 460h5v5h-5zM163 513h6v6h-6zM136 519h5v5h-5zM180 524h5v5h-5zM263 524h6v5h-6zM274 529h6v6h-6z"/><path fill="rgb(178,178,178)" d="M341 13h6v5h-6zM324 29h6v5h-6zM219 39h5v6h-5zM358 39h5v6h-5zM58 45h5v5h-5zM358 50h5v5h-5zM358 55h5v6h-5zM347 61h5v5h-5zM247 71h5v6h-5zM313 71h6v6h-6zM69 87h5v6h-5zM197 98h5v5h-5zM158 103h5v6h-5zM208 109h5v5h-5zM319 109h5v5h-5zM341 109h6v5h-6zM136 114h5v5h-5zM163 114h6v5h-6zM308 135h5v6h-5zM302 146h6v5h-6zM97 157h5v5h-5zM313 162h6v5h-6zM119 194h5v5h-5zM169 204h5v6h-5zM319 210h5v5h-5zM285 226h6v5h-6zM396 226h2v5h-2zM136 231h5v5h-5zM280 231h5v5h-5zM180 242h5v5h-5zM258 242h5v5h-5zM352 242h6v5h-6zM274 252h6v6h-6zM185 258h6v5h-6zM252 295h6v5h-6zM141 300h6v6h-6zM219 306h5v5h-5zM63 311h6v5h-6zM324 311h6v5h-6zM191 322h6v5h-6zM152 396h6v5h-6zM185 396h6v5h-6zM208 396h5v5h-5zM202 401h6v6h-6zM197 412h5v5h-5zM274 412h6v5h-6zM358 412h5v5h-5zM108 423h5v5h-5zM202 423h6v5h-6zM224 449h6v6h-6zM235 460h6v5h-6zM174 476h6v5h-6zM191 497h6v6h-6zM169 513h5v6h-5zM174 524h6v5h-6z"/><path fill="rgb(181,181,181)" d="M124 23h6v6h-6zM63 39h6v6h-6zM363 45h6v5h-6zM69 61h5v5h-5zM335 66h6v5h-6zM74 77h6v5h-6zM91 77h6v5h-6zM335 77h6v5h-6zM274 98h6v5h-6zM335 103h6v6h-6zM163 130h6v5h-6zM219 141h5v5h-5zM302 141h6v5h-6zM58 151h5v6h-5zM280 157h5v5h-5zM169 162h5v5h-5zM269 162h5v5h-5zM158 178h5v5h-5zM302 183h6v6h-6zM130 194h6v5h-6zM163 199h6v5h-6zM80 204h6v6h-6zM80 220h6v6h-6zM335 220h6v6h-6zM86 242h5v5h-5zM197 279h5v5h-5zM163 290h6v5h-6zM230 295h5v5h-5zM385 295h6v5h-6zM269 300h5v6h-5zM291 306h6v5h-6zM224 311h6v5h-6zM247 311h5v5h-5zM219 316h5v6h-5zM241 327h6v5h-6zM374 327h6v5h-6zM108 338h5v5h-5zM97 343h5v5h-5zM313 343h6v5h-6zM224 354h6v5h-6zM152 386h6v5h-6zM202 412h6v5h-6zM235 412h6v5h-6zM80 417h6v6h-6zM174 417h6v6h-6zM219 423h5v5h-5zM102 428h6v5h-6zM169 428h5v5h-5zM191 428h6v5h-6zM136 444h5v5h-5zM185 471h6v5h-6zM191 476h11v5h-11zM391 487h5v5h-5zM97 492h5v5h-5zM86 524h5v5h-5zM297 535h5v5h-5z"/><path fill="rgb(184,184,184)" d="M136 13h5v5h-5zM352 23h6v6h-6zM80 77h6v5h-6zM130 87h6v6h-6zM330 87h5v6h-5zM280 125h5v5h-5zM269 130h5v5h-5zM285 146h6v5h-6zM141 157h6v5h-6zM63 167h6v6h-6zM291 173h6v5h-6zM86 178h5v5h-5zM291 210h6v5h-6zM202 220h6v6h-6zM269 220h5v6h-5zM285 220h6v6h-6zM91 231h6v5h-6zM102 231h6v5h-6zM263 231h6v5h-6zM374 247h6v5h-6zM252 252h6v6h-6zM169 268h5v6h-5zM241 279h6v5h-6zM202 284h6v6h-6zM235 290h6v5h-6zM252 290h6v5h-6zM324 290h6v5h-6zM335 322h6v5h-6zM347 322h5v5h-5zM324 327h6v5h-6zM213 338h6v5h-6zM102 348h6v6h-6zM69 370h5v5h-5zM247 370h5v5h-5zM163 396h6v5h-6zM319 396h5v5h-5zM158 401h5v6h-5zM180 401h5v6h-5zM180 412h5v5h-5zM324 428h6v5h-6zM119 465h5v6h-5zM258 471h5v5h-5zM136 481h5v6h-5zM269 508h5v5h-5zM358 519h5v5h-5zM74 524h6v5h-6zM302 524h6v5h-6zM180 545h5v1h-5zM380 545h5v1h-5z"/><path fill="rgb(187,187,187)" d="M91 18h6v5h-6zM113 18h6v5h-6zM197 18h5v5h-5zM280 39h5v6h-5zM180 55h5v6h-5zM247 55h5v6h-5zM136 66h5v5h-5zM124 87h6v6h-6zM330 93h5v5h-5zM202 98h6v5h-6zM341 98h6v5h-6zM263 103h6v6h-6zM80 130h6v5h-6zM324 130h6v5h-6zM63 157h6v5h-6zM313 157h6v5h-6zM280 194h5v5h-5zM74 199h6v5h-6zM252 231h6v5h-6zM219 247h5v5h-5zM269 258h5v5h-5zM324 263h6v5h-6zM241 268h6v6h-6zM74 295h6v5h-6zM347 306h5v5h-5zM208 311h5v5h-5zM252 311h6v5h-6zM235 327h6v5h-6zM63 332h6v6h-6zM80 370h6v5h-6zM197 375h5v5h-5zM213 386h6v5h-6zM235 386h6v5h-6zM102 391h6v5h-6zM208 391h5v5h-5zM213 407h6v5h-6zM263 423h6v5h-6zM169 433h5v6h-5zM163 455h6v5h-6zM324 460h6v5h-6zM147 471h5v5h-5zM69 513h5v6h-5zM113 540h6v5h-6zM213 540h6v5h-6zM313 540h6v5h-6zM347 540h5v5h-5z"/><path fill="rgb(190,190,190)" d="M391 50h5v5h-5zM341 71h6v6h-6zM247 82h5v5h-5zM335 82h6v5h-6zM347 87h5v6h-5zM341 93h6v5h-6zM302 98h6v5h-6zM330 114h5v5h-5zM391 130h5v5h-5zM213 141h6v5h-6zM269 167h5v6h-5zM302 178h6v5h-6zM285 183h6v6h-6zM396 189h2v5h-2zM341 210h6v5h-6zM147 226h5v5h-5zM74 231h6v5h-6zM319 231h5v5h-5zM147 247h5v5h-5zM258 252h5v6h-5zM185 263h6v5h-6zM391 295h5v5h-5zM285 311h6v5h-6zM224 316h6v6h-6zM219 322h5v5h-5zM219 327h5v5h-5zM230 343h5v5h-5zM185 348h6v6h-6zM208 354h5v5h-5zM202 364h6v6h-6zM219 364h5v6h-5zM369 386h5v5h-5zM219 391h5v5h-5zM385 407h6v5h-6zM152 428h6v5h-6zM169 455h5v5h-5zM241 455h6v5h-6zM97 476h5v5h-5zM213 492h6v5h-6zM119 497h5v6h-5zM69 519h5v5h-5zM324 529h6v6h-6zM130 535h6v5h-6zM247 545h5v1h-5z"/><path fill="rgb(193,193,193)" d="M308 18h5v5h-5zM174 23h6v6h-6zM352 39h6v6h-6zM230 50h5v5h-5zM347 55h5v6h-5zM219 61h5v5h-5zM119 82h5v5h-5zM291 87h6v6h-6zM63 93h6v5h-6zM313 93h6v5h-6zM230 109h5v5h-5zM319 114h5v5h-5zM352 114h6v5h-6zM313 125h6v5h-6zM313 151h6v6h-6zM180 157h5v5h-5zM297 157h5v5h-5zM291 167h6v6h-6zM396 199h2v5h-2zM269 204h5v6h-5zM219 220h5v6h-5zM274 236h6v6h-6zM269 252h5v6h-5zM258 279h5v5h-5zM124 284h6v6h-6zM391 290h5v5h-5zM291 316h6v6h-6zM80 322h6v5h-6zM86 338h5v5h-5zM208 380h5v6h-5zM136 401h5v6h-5zM169 439h5v5h-5zM180 439h5v5h-5zM269 439h5v5h-5zM291 449h6v6h-6zM280 455h5v5h-5zM335 455h6v5h-6zM313 460h6v5h-6zM74 465h6v6h-6zM174 465h6v6h-6zM274 465h6v6h-6zM330 481h5v6h-5zM319 492h5v5h-5zM58 497h5v6h-5zM80 508h6v5h-6zM197 540h5v5h-5z"/><path fill="rgb(196,196,196)" d="M91 13h6v5h-6zM269 13h5v5h-5zM241 39h6v6h-6zM97 66h5v5h-5zM313 103h6v6h-6zM324 103h6v6h-6zM374 103h6v6h-6zM258 109h5v5h-5zM363 114h6v5h-6zM174 130h6v5h-6zM224 141h6v5h-6zM302 151h6v6h-6zM152 162h6v5h-6zM396 162h2v5h-2zM297 178h5v5h-5zM291 204h6v6h-6zM97 210h5v5h-5zM147 231h5v5h-5zM97 236h5v6h-5zM158 236h5v6h-5zM263 236h6v6h-6zM119 247h5v5h-5zM241 263h6v5h-6zM252 263h6v5h-6zM247 268h5v6h-5zM358 279h5v5h-5zM285 284h6v6h-6zM269 295h5v5h-5zM124 316h6v6h-6zM224 348h6v6h-6zM263 370h6v5h-6zM191 380h6v6h-6zM213 380h6v6h-6zM208 386h5v5h-5zM274 396h6v5h-6zM185 401h6v6h-6zM280 417h5v6h-5zM241 428h6v5h-6zM180 449h5v6h-5zM208 481h5v6h-5zM124 487h6v5h-6z"/><path fill="rgb(199,199,199)" d="M230 18h5v5h-5zM74 39h6v6h-6zM274 71h6v6h-6zM302 77h6v5h-6zM341 87h6v6h-6zM91 93h6v5h-6zM191 114h6v5h-6zM136 199h5v5h-5zM280 204h5v6h-5zM274 210h6v5h-6zM269 215h5v5h-5zM124 226h6v5h-6zM258 247h5v5h-5zM297 247h5v5h-5zM285 263h6v5h-6zM258 268h5v6h-5zM219 279h5v5h-5zM252 284h6v6h-6zM396 295h2v5h-2zM241 311h6v5h-6zM202 370h6v5h-6zM213 375h6v5h-6zM102 412h6v5h-6zM86 423h5v5h-5zM174 423h6v5h-6zM152 433h6v6h-6zM258 433h5v6h-5zM297 439h5v5h-5zM352 465h6v6h-6zM158 476h5v5h-5zM391 503h5v5h-5zM297 524h5v5h-5z"/><path fill="rgb(202,202,202)" d="M352 55h6v6h-6zM352 61h6v5h-6zM347 71h5v6h-5zM347 77h5v5h-5zM208 87h5v6h-5zM335 98h6v5h-6zM374 151h6v6h-6zM369 157h5v5h-5zM208 162h5v5h-5zM297 162h5v5h-5zM308 162h5v5h-5zM330 173h5v5h-5zM291 178h6v5h-6zM396 183h2v6h-2zM280 199h5v5h-5zM285 210h6v5h-6zM285 215h6v5h-6zM158 242h5v5h-5zM230 268h5v6h-5zM263 268h6v6h-6zM252 279h6v5h-6zM247 300h5v6h-5zM258 306h5v5h-5zM274 311h6v5h-6zM224 322h6v5h-6zM219 332h5v6h-5zM230 338h5v5h-5zM213 343h6v5h-6zM369 380h5v6h-5zM363 391h6v5h-6zM185 428h6v5h-6zM147 433h5v6h-5zM58 439h5v5h-5zM63 465h6v6h-6zM391 492h5v5h-5zM330 540h5v5h-5z"/><path fill="rgb(205,205,205)" d="M380 9h5v4h-5zM69 93h5v5h-5zM330 98h5v5h-5zM319 125h5v5h-5zM313 130h6v5h-6zM369 146h5v5h-5zM219 162h5v5h-5zM302 173h6v5h-6zM374 173h6v5h-6zM297 194h5v5h-5zM185 199h6v5h-6zM274 204h6v6h-6zM124 210h6v5h-6zM274 242h6v5h-6zM269 247h5v5h-5zM380 247h5v5h-5zM91 258h6v5h-6zM319 268h5v6h-5zM241 284h6v6h-6zM180 290h5v5h-5zM235 295h6v5h-6zM230 306h5v5h-5zM247 306h5v5h-5zM230 311h5v5h-5zM230 327h5v5h-5zM219 338h5v5h-5zM219 343h5v5h-5zM391 348h5v6h-5zM197 380h5v6h-5zM252 391h6v5h-6zM191 396h6v5h-6zM247 428h5v5h-5zM208 439h5v5h-5zM180 444h5v5h-5zM235 455h6v5h-6zM141 492h6v5h-6zM313 492h6v5h-6zM269 497h5v6h-5zM352 503h6v5h-6zM113 519h6v5h-6zM319 535h5v5h-5z"/><path fill="rgb(208,208,208)" d="M124 18h6v5h-6zM58 39h5v6h-5zM347 66h5v5h-5zM385 66h6v5h-6zM341 82h6v5h-6zM69 103h5v6h-5zM324 125h6v5h-6zM319 141h5v5h-5zM313 146h6v5h-6zM285 189h6v5h-6zM297 189h5v5h-5zM291 199h6v5h-6zM91 204h6v6h-6zM263 204h6v6h-6zM119 236h5v6h-5zM363 236h6v6h-6zM263 258h6v5h-6zM263 263h6v5h-6zM252 268h6v6h-6zM258 274h5v5h-5zM241 295h6v5h-6zM224 306h6v5h-6zM191 316h6v6h-6zM235 316h6v6h-6zM97 332h5v6h-5zM213 370h6v5h-6zM202 396h6v5h-6zM130 412h6v5h-6zM297 417h5v6h-5zM191 423h6v5h-6zM169 444h5v5h-5zM152 455h6v5h-6zM285 455h6v5h-6zM63 476h6v5h-6zM269 481h5v6h-5zM302 535h6v5h-6z"/><path fill="rgb(211,211,211)" d="M152 34h6v5h-6zM358 45h5v5h-5zM219 55h5v6h-5zM330 82h5v5h-5zM330 103h5v6h-5zM330 109h5v5h-5zM396 119h2v6h-2zM136 125h5v5h-5zM396 125h2v5h-2zM297 183h5v6h-5zM319 189h5v5h-5zM358 189h5v5h-5zM358 194h5v5h-5zM219 210h5v5h-5zM274 215h11v5h-11zM269 226h5v5h-5zM263 247h6v5h-6zM197 274h5v5h-5zM241 290h11v5h-11zM169 306h5v5h-5zM324 306h6v5h-6zM58 343h5v5h-5zM347 343h5v5h-5zM297 354h5v5h-5zM213 364h6v6h-6zM141 380h6v6h-6zM152 380h6v6h-6zM191 391h6v5h-6zM185 407h6v5h-6zM269 407h5v5h-5zM202 417h6v6h-6zM313 455h6v5h-6zM191 529h6v6h-6z"/><path fill="rgb(214,214,214)" d="M163 9h6v4h-6zM58 77h5v5h-5zM324 77h6v5h-6zM335 87h6v6h-6zM297 93h5v5h-5zM102 98h6v5h-6zM119 109h5v5h-5zM324 109h6v5h-6zM230 114h5v5h-5zM147 130h5v5h-5zM235 130h6v5h-6zM347 130h5v5h-5zM258 135h5v6h-5zM319 135h5v6h-5zM308 141h11v5h-11zM302 157h11v5h-11zM352 157h6v5h-6zM302 162h6v5h-6zM380 178h5v5h-5zM285 199h6v5h-6zM285 204h6v6h-6zM302 220h6v6h-6zM269 236h5v6h-5zM263 252h6v6h-6zM124 268h6v6h-6zM224 327h6v5h-6zM213 348h6v6h-6zM219 354h5v5h-5zM219 359h5v5h-5zM208 364h5v6h-5zM202 386h6v5h-6zM191 407h6v5h-6zM324 407h6v5h-6zM191 417h6v6h-6zM185 433h6v6h-6zM213 487h6v5h-6zM369 519h5v5h-5zM380 535h5v5h-5z"/><path fill="rgb(217,217,217)" d="M113 34h6v5h-6zM252 34h6v5h-6zM91 87h6v6h-6zM213 98h6v5h-6zM119 125h5v5h-5zM163 135h6v6h-6zM313 135h6v6h-6zM308 146h5v5h-5zM163 151h6v6h-6zM308 151h5v6h-5zM391 162h5v5h-5zM297 167h5v6h-5zM291 183h6v6h-6zM291 189h6v5h-6zM63 194h6v5h-6zM269 199h5v5h-5zM258 258h5v5h-5zM291 258h6v5h-6zM185 268h6v6h-6zM247 274h5v5h-5zM374 300h6v6h-6zM330 311h5v5h-5zM147 316h5v6h-5zM241 316h6v6h-6zM235 322h6v5h-6zM269 322h5v5h-5zM224 338h6v5h-6zM224 343h6v5h-6zM208 359h11v5h-11zM385 375h6v5h-6zM202 391h6v5h-6zM174 412h6v5h-6zM185 412h6v5h-6zM180 423h5v5h-5zM119 433h5v6h-5zM174 433h6v6h-6zM169 449h5v6h-5zM180 471h5v5h-5zM180 508h5v5h-5zM224 545h6v1h-6z"/><path fill="rgb(220,220,220)" d="M147 9h5v4h-5zM319 29h5v5h-5zM369 71h5v6h-5zM341 77h6v5h-6zM335 93h6v5h-6zM308 109h5v5h-5zM302 167h6v6h-6zM330 178h5v5h-5zM280 183h5v6h-5zM241 210h6v5h-6zM274 220h6v6h-6zM235 226h6v5h-6zM280 226h5v5h-5zM241 231h6v5h-6zM269 231h5v5h-5zM302 247h6v5h-6zM330 252h5v6h-5zM252 258h6v5h-6zM302 258h6v5h-6zM258 263h5v5h-5zM252 274h6v5h-6zM91 279h6v5h-6zM235 300h6v6h-6zM230 322h5v5h-5zM97 327h5v5h-5zM274 327h6v5h-6zM319 359h5v5h-5zM385 370h6v5h-6zM202 375h6v5h-6zM197 386h5v5h-5zM197 407h5v5h-5zM185 417h6v6h-6zM185 423h6v5h-6zM130 433h6v6h-6zM185 439h6v5h-6zM174 444h6v5h-6zM174 449h6v6h-6zM130 455h6v5h-6zM180 465h5v6h-5zM174 492h6v5h-6zM191 492h6v5h-6z"/><path fill="rgb(223,223,223)" d="M330 45h5v5h-5zM319 119h5v6h-5zM274 226h6v5h-6zM269 242h5v5h-5zM335 316h6v6h-6zM230 332h5v6h-5zM208 375h5v5h-5zM197 391h5v5h-5zM191 401h6v6h-6zM174 439h6v5h-6zM163 444h6v5h-6zM291 513h6v6h-6z"/><path fill="rgb(226,226,226)" d="M335 109h6v5h-6zM324 119h6v6h-6zM319 130h5v5h-5zM291 194h6v5h-6zM280 210h5v5h-5zM280 220h5v6h-5zM274 231h6v5h-6zM241 300h6v6h-6zM235 306h6v5h-6zM230 316h5v6h-5zM224 332h6v6h-6zM219 348h5v6h-5zM208 370h5v5h-5zM202 380h6v6h-6zM191 412h6v5h-6zM180 433h5v6h-5z"/><path fill="rgb(229,229,229)" d="M263 242h6v5h-6zM241 306h6v5h-6zM235 311h6v5h-6zM197 401h5v6h-5zM180 417h5v6h-5zM174 428h6v5h-6z"/><path fill="rgb(232,232,232)" d="M324 114h6v5h-6zM247 279h5v5h-5zM247 295h5v5h-5zM213 354h6v5h-6z"/><path fill="rgb(235,235,235)" d="M285 194h6v5h-6zM247 284h5v6h-5zM180 428h5v5h-5z"/><path fill="rgb(238,238,238)" d="M297 173h5v5h-5z"/><path fill="rgb(250,250,250)" d="M197 396h5v5h-5z"/></g><path d="M110.52 8.60v5M110.52 546.30v-5M166.04 8.60v5M166.04 546.30v-5M221.56 8.60v5M221.56 546.30v-5M277.08 8.60v5M277.08 546.30v-5M332.60 8.60v5M332.60 546.30v-5M388.12 8.60v5M388.12 546.30v-5M57.80 58.10h5M397.90 58.10h-6M57.80 111.34h5M397.90 111.34h-6M57.80 164.58h5M397.90 164.58h-6M57.80 217.82h5M397.90 217.82h-6M57.80 271.06h5M397.90 271.06h-6M57.80 324.30h5M397.90 324.30h-6M57.80 377.54h5M397.90 377.54h-6M57.80 430.78h5M397.90 430.78h-6M57.80 484.02h5M397.90 484.02h-6M57.80 537.26h5M397.90 537.26h-6" stroke="#000" stroke-width="1.6" fill="none"/><rect x="57.80" y="8.60" width="340.10" height="537.70" fill="none" stroke="#000" stroke-width="1.6"/><path d="M112 78.2L224.8 54.6M112 78.2L179.8 77.8L172.3 47.2" stroke="#f00" stroke-width="2.2" fill="none"/><text x="88.12" y="91.70" font-family="'Liberation Sans', sans-serif" font-weight="normal" font-size="20.50" fill="#f00" textLength="15.64" lengthAdjust="spacingAndGlyphs">N</text><path d="M153.7 525.2V536.2H351.7V525.6M252.7 525.6V536.2" stroke="#f00" stroke-width="2.6" fill="none"/><text x="147.69" y="512.80" font-family="'Liberation Serif', serif" font-weight="normal" font-size="27.00" fill="#f00" textLength="14.51" lengthAdjust="spacingAndGlyphs">0</text><text x="238.20" y="512.80" font-family="'Liberation Serif', serif" font-weight="normal" font-size="27.00" fill="#f00" textLength="18.18" lengthAdjust="spacingAndGlyphs">1</text><text x="334.91" y="512.90" font-family="'Liberation Serif', serif" font-weight="normal" font-size="27.00" fill="#f00" textLength="55.12" lengthAdjust="spacingAndGlyphs">2 km</text><text transform="translate(0 63.46) scale(0.720 1)" x="53.54 66.46" y="0" text-anchor="middle" font-family="'Liberation Sans', sans-serif" font-size="19.35">10</text><text transform="translate(0 116.70) scale(0.720 1)" x="53.54 66.46" y="0" text-anchor="middle" font-family="'Liberation Sans', sans-serif" font-size="19.35">20</text><text transform="translate(0 169.94) scale(0.720 1)" x="53.54 66.46" y="0" text-anchor="middle" font-family="'Liberation Sans', sans-serif" font-size="19.35">30</text><text transform="translate(0 223.18) scale(0.720 1)" x="53.54 66.46" y="0" text-anchor="middle" font-family="'Liberation Sans', sans-serif" font-size="19.35">40</text><text transform="translate(0 276.42) scale(0.720 1)" x="53.54 66.46" y="0" text-anchor="middle" font-family="'Liberation Sans', sans-serif" font-size="19.35">50</text><text transform="translate(0 329.66) scale(0.720 1)" x="53.54 66.46" y="0" text-anchor="middle" font-family="'Liberation Sans', sans-serif" font-size="19.35">60</text><text transform="translate(0 382.90) scale(0.720 1)" x="53.54 66.46" y="0" text-anchor="middle" font-family="'Liberation Sans', sans-serif" font-size="19.35">70</text><text transform="translate(0 436.14) scale(0.720 1)" x="53.54 66.46" y="0" text-anchor="middle" font-family="'Liberation Sans', sans-serif" font-size="19.35">80</text><text transform="translate(0 489.38) scale(0.720 1)" x="53.54 66.46" y="0" text-anchor="middle" font-family="'Liberation Sans', sans-serif" font-size="19.35">90</text><text transform="translate(0 542.62) scale(0.720 1)" x="40.62 53.54 66.46" y="0" text-anchor="middle" font-family="'Liberation Sans', sans-serif" font-size="19.35">100</text><text transform="translate(0 565.46) scale(0.720 1)" x="147.04 159.96" y="0" text-anchor="middle" font-family="'Liberation Sans', sans-serif" font-size="19.35">10</text><text transform="translate(0 565.46) scale(0.720 1)" x="224.15 237.07" y="0" text-anchor="middle" font-family="'Liberation Sans', sans-serif" font-size="19.35">20</text><text transform="translate(0 565.46) scale(0.720 1)" x="301.26 314.18" y="0" text-anchor="middle" font-family="'Liberation Sans', sans-serif" font-size="19.35">30</text><text transform="translate(0 565.46) scale(0.720 1)" x="378.37 391.29" y="0" text-anchor="middle" font-family="'Liberation Sans', sans-serif" font-size="19.35">40</text><text transform="translate(0 565.46) scale(0.720 1)" x="455.49 468.40" y="0" text-anchor="middle" font-family="'Liberation Sans', sans-serif" font-size="19.35">50</text><text transform="translate(0 565.46) scale(0.720 1)" x="532.60 545.51" y="0" text-anchor="middle" font-family="'Liberation Sans', sans-serif" font-size="19.35">60</text><text x="168.77" y="591.50" font-family="'Liberation Sans', sans-serif" font-weight="normal" font-size="18.60" fill="#000" textLength="114.38" lengthAdjust="spacingAndGlyphs">Azimuth pixels</text><text transform="translate(13.6 328.8) rotate(-90)" x="-1.44" y="0.00" font-family="'Liberation Sans', sans-serif" font-weight="normal" font-size="18.60" fill="#000" textLength="103.27" lengthAdjust="spacingAndGlyphs">Range Pixels</text><defs><linearGradient id="cb" x1="0" y1="0" x2="0" y2="1"><stop offset="0" stop-color="#fff"/><stop offset="1" stop-color="#000"/></linearGradient></defs><rect x="430.50" y="8.60" width="41.00" height="539.60" fill="url(#cb)" stroke="#000" stroke-width="1.6"/><text transform="translate(0 523.06) scale(0.720 1)" x="679.79 692.71" y="0" text-anchor="middle" font-family="'Liberation Sans', sans-serif" font-size="19.35">40</text><path d="M476.15 516.40h8.00" stroke="#000" stroke-width="1.35"/><text transform="translate(0 463.06) scale(0.720 1)" x="679.79 692.71" y="0" text-anchor="middle" font-family="'Liberation Sans', sans-serif" font-size="19.35">30</text><path d="M476.15 456.40h8.00" stroke="#000" stroke-width="1.35"/><text transform="translate(0 403.06) scale(0.720 1)" x="679.79 692.71" y="0" text-anchor="middle" font-family="'Liberation Sans', sans-serif" font-size="19.35">20</text><path d="M476.15 396.40h8.00" stroke="#000" stroke-width="1.35"/><text transform="translate(0 343.06) scale(0.720 1)" x="679.79 692.71" y="0" text-anchor="middle" font-family="'Liberation Sans', sans-serif" font-size="19.35">10</text><path d="M476.15 336.40h8.00" stroke="#000" stroke-width="1.35"/><text transform="translate(0 283.06) scale(0.720 1)" x="666.88" y="0" text-anchor="middle" font-family="'Liberation Sans', sans-serif" font-size="19.35">0</text><text transform="translate(0 223.06) scale(0.720 1)" x="666.88 679.79" y="0" text-anchor="middle" font-family="'Liberation Sans', sans-serif" font-size="19.35">10</text><text transform="translate(0 163.06) scale(0.720 1)" x="666.88 679.79" y="0" text-anchor="middle" font-family="'Liberation Sans', sans-serif" font-size="19.35">20</text><text transform="translate(0 103.06) scale(0.720 1)" x="666.88 679.79" y="0" text-anchor="middle" font-family="'Liberation Sans', sans-serif" font-size="19.35">30</text><text transform="translate(0 43.06) scale(0.720 1)" x="666.88 679.79" y="0" text-anchor="middle" font-family="'Liberation Sans', sans-serif" font-size="19.35">40</text><path d="M430.50 517.40h5M471.50 517.40h-5M430.50 457.40h5M471.50 457.40h-5M430.50 397.40h5M471.50 397.40h-5M430.50 337.40h5M471.50 337.40h-5M430.50 277.40h5M471.50 277.40h-5M430.50 217.40h5M471.50 217.40h-5M430.50 157.40h5M471.50 157.40h-5M430.50 97.40h5M471.50 97.40h-5M430.50 37.40h5M471.50 37.40h-5" stroke="#000" stroke-width="1.4" fill="none"/><text x="398.03" y="582.40" font-family="'Liberation Sans', sans-serif" font-weight="normal" font-size="18.40" fill="#000" textLength="117.36" lengthAdjust="spacingAndGlyphs">Rotation Angle</text><text x="421.80" y="600.60" font-family="'Liberation Sans', sans-serif" font-weight="normal" font-size="18.40" fill="#000" textLength="69.79" lengthAdjust="spacingAndGlyphs">(Degree)</text><path d="M615.50 538.40h3.948v-8.48h-3.948zM619.45 538.40h3.948v-21.19h-3.948zM623.40 538.40h3.948v-44.50h-3.948zM627.34 538.40h3.948v-38.14h-3.948zM631.29 538.40h3.948v-25.43h-3.948zM635.24 538.40h3.948v-44.50h-3.948zM639.19 538.40h3.948v-33.90h-3.948zM643.14 538.40h3.948v-38.14h-3.948zM647.08 538.40h3.948v-42.38h-3.948zM651.03 538.40h3.948v-38.14h-3.948zM654.98 538.40h3.948v-40.26h-3.948zM658.93 538.40h3.948v-38.14h-3.948zM662.88 538.40h3.948v-44.50h-3.948zM666.82 538.40h3.948v-48.74h-3.948zM670.77 538.40h3.948v-55.09h-3.948zM674.72 538.40h3.948v-61.45h-3.948zM678.67 538.40h3.948v-61.45h-3.948zM682.62 538.40h3.948v-61.45h-3.948zM686.56 538.40h3.948v-61.45h-3.948zM690.51 538.40h3.948v-84.76h-3.948zM694.46 538.40h3.948v-72.05h-3.948zM698.41 538.40h3.948v-91.12h-3.948zM702.36 538.40h3.948v-84.76h-3.948zM706.30 538.40h3.948v-108.07h-3.948zM710.25 538.40h3.948v-141.97h-3.948zM714.20 538.40h3.948v-141.97h-3.948zM718.15 538.40h3.948v-152.57h-3.948zM722.10 538.40h3.948v-158.93h-3.948zM726.04 538.40h3.948v-175.88h-3.948zM729.99 538.40h3.948v-175.88h-3.948zM733.94 538.40h3.948v-233.09h-3.948zM737.89 538.40h3.948v-199.19h-3.948zM741.84 538.40h3.948v-235.21h-3.948zM745.78 538.40h3.948v-264.88h-3.948zM749.73 538.40h3.948v-279.71h-3.948zM753.68 538.40h3.948v-298.78h-3.948zM757.63 538.40h3.948v-379.30h-3.948zM761.58 538.40h3.948v-339.04h-3.948zM765.52 538.40h3.948v-339.04h-3.948zM769.47 538.40h3.948v-385.66h-3.948zM773.42 538.40h3.948v-362.35h-3.948zM777.37 538.40h3.948v-434.40h-3.948zM781.32 538.40h3.948v-383.54h-3.948zM785.26 538.40h3.948v-383.54h-3.948zM789.21 538.40h3.948v-402.61h-3.948zM793.16 538.40h3.948v-383.54h-3.948zM797.11 538.40h3.948v-389.90h-3.948zM801.06 538.40h3.948v-307.26h-3.948zM805.00 538.40h3.948v-345.40h-3.948zM808.95 538.40h3.948v-343.28h-3.948zM812.90 538.40h3.948v-353.87h-3.948zM816.85 538.40h3.948v-273.35h-3.948zM820.80 538.40h3.948v-262.76h-3.948zM824.74 538.40h3.948v-222.50h-3.948zM828.69 538.40h3.948v-192.83h-3.948zM832.64 538.40h3.948v-171.64h-3.948zM836.59 538.40h3.948v-161.04h-3.948zM840.54 538.40h3.948v-171.64h-3.948zM844.48 538.40h3.948v-152.57h-3.948zM848.43 538.40h3.948v-148.33h-3.948zM852.38 538.40h3.948v-118.66h-3.948zM856.33 538.40h3.948v-95.36h-3.948zM860.28 538.40h3.948v-112.31h-3.948zM864.22 538.40h3.948v-108.07h-3.948zM868.17 538.40h3.948v-89.00h-3.948zM872.12 538.40h3.948v-74.17h-3.948zM876.07 538.40h3.948v-80.52h-3.948zM880.02 538.40h3.948v-84.76h-3.948zM883.96 538.40h3.948v-72.05h-3.948zM887.91 538.40h3.948v-84.76h-3.948zM891.86 538.40h3.948v-72.05h-3.948zM895.81 538.40h3.948v-95.36h-3.948zM899.76 538.40h3.948v-91.12h-3.948zM903.70 538.40h3.948v-105.95h-3.948zM907.65 538.40h3.948v-97.47h-3.948zM911.60 538.40h3.948v-84.76h-3.948zM915.55 538.40h3.948v-99.59h-3.948zM919.50 538.40h3.948v-76.28h-3.948zM923.44 538.40h3.948v-78.40h-3.948zM927.39 538.40h3.948v-48.74h-3.948zM931.34 538.40h3.948v-25.43h-3.948zM935.29 538.40h3.948v-40.26h-3.948zM939.24 538.40h3.948v-31.79h-3.948zM943.18 538.40h3.948v-46.62h-3.948zM947.13 538.40h3.948v-31.79h-3.948zM951.08 538.40h3.948v-31.79h-3.948zM955.03 538.40h3.948v-31.79h-3.948zM958.98 538.40h3.948v-25.43h-3.948zM962.92 538.40h3.948v-38.14h-3.948zM966.87 538.40h3.948v-40.26h-3.948zM970.82 538.40h3.948v-16.95h-3.948z" fill="#00009c" stroke="#000" stroke-width="1"/><text transform="translate(0 543.71) scale(0.720 1)" x="816.04" y="0" text-anchor="middle" font-family="'Liberation Sans', sans-serif" font-size="19.35">0</text><text transform="translate(0 437.76) scale(0.720 1)" x="803.12 816.04" y="0" text-anchor="middle" font-family="'Liberation Sans', sans-serif" font-size="19.35">50</text><text transform="translate(0 331.81) scale(0.720 1)" x="790.21 803.13 816.04" y="0" text-anchor="middle" font-family="'Liberation Sans', sans-serif" font-size="19.35">100</text><text transform="translate(0 225.86) scale(0.720 1)" x="790.21 803.13 816.04" y="0" text-anchor="middle" font-family="'Liberation Sans', sans-serif" font-size="19.35">150</text><text transform="translate(0 119.91) scale(0.720 1)" x="790.21 803.13 816.04" y="0" text-anchor="middle" font-family="'Liberation Sans', sans-serif" font-size="19.35">200</text><text transform="translate(0 13.96) scale(0.720 1)" x="790.21 803.13 816.04" y="0" text-anchor="middle" font-family="'Liberation Sans', sans-serif" font-size="19.35">250</text><path d="M599.20 538.40h5M992.70 538.40h-6.5M599.20 432.45h5M992.70 432.45h-6.5M599.20 326.50h5M992.70 326.50h-6.5M599.20 220.55h5M992.70 220.55h-6.5M599.20 114.60h5M992.70 114.60h-6.5M599.20 8.65h5M992.70 8.65h-6.5M599.20 538.40v-5M599.20 8.60v5M795.95 538.40v-5M795.95 8.60v5M992.70 538.40v-5M992.70 8.60v5" stroke="#000" stroke-width="1.4" fill="none"/><rect x="599.20" y="8.60" width="393.50" height="529.80" fill="none" stroke="#000" stroke-width="1.5"/><circle cx="907" cy="444.6" r="58" fill="none" stroke="#ffbf00" stroke-width="4" stroke-dasharray="17.7 15.43" stroke-dashoffset="18.4"/><text transform="translate(0 557.46) scale(0.720 1)" x="824.24 837.15" y="0" text-anchor="middle" font-family="'Liberation Sans', sans-serif" font-size="19.35">50</text><path d="M580.15 550.80h8.00" stroke="#000" stroke-width="1.35"/><text transform="translate(0 557.46) scale(0.720 1)" x="1104.58" y="0" text-anchor="middle" font-family="'Liberation Sans', sans-serif" font-size="19.35">0</text><text transform="translate(0 557.46) scale(0.720 1)" x="1372.01 1384.93" y="0" text-anchor="middle" font-family="'Liberation Sans', sans-serif" font-size="19.35">50</text><text x="700.14" y="583.80" font-family="'Liberation Sans', sans-serif" font-weight="normal" font-size="18.40" fill="#000" textLength="186.66" lengthAdjust="spacingAndGlyphs">Rotation angle (degree)</text><text transform="translate(554.6 341.4) rotate(-90)" x="-1.47" y="0.00" font-family="'Liberation Sans', sans-serif" font-weight="normal" font-size="18.40" fill="#000" textLength="134.62" lengthAdjust="spacingAndGlyphs">Number of pixels</text><text x="275.92" y="630.50" font-family="'Liberation Serif', serif" font-weight="normal" font-size="29.00" fill="#000" textLength="32.36" lengthAdjust="spacingAndGlyphs">(a)</text><text x="779.84" y="630.90" font-family="'Liberation Serif', serif" font-weight="normal" font-size="29.00" fill="#000" textLength="33.42" lengthAdjust="spacingAndGlyphs">(b)</text></svg></body></html>
